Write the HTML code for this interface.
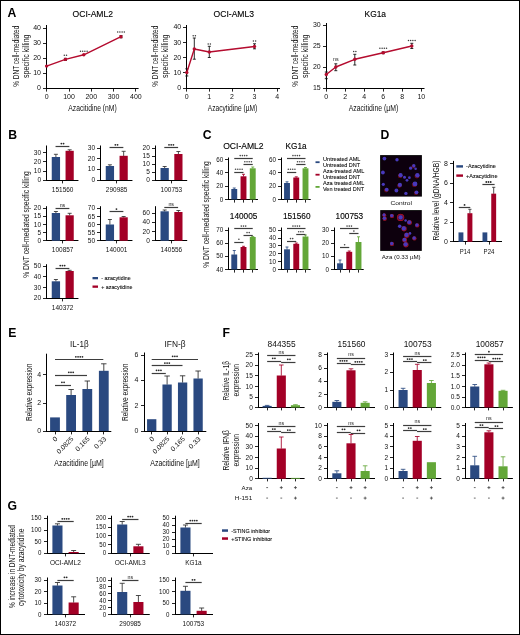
<!DOCTYPE html>
<html><head><meta charset="utf-8"><title>Figure</title>
<style>
html,body{margin:0;padding:0;background:#fff;}
body{width:520px;height:635px;overflow:hidden;position:relative;font-family:"Liberation Sans",sans-serif;}
#frame{position:absolute;left:0;top:0;width:518px;height:633px;border:1px solid #000;pointer-events:none;}
svg{position:absolute;left:0;top:0;display:block;}
svg text{font-family:"Liberation Sans",sans-serif;}
</style></head>
<body>
<svg width="520" height="635" viewBox="0 0 520 635">
<defs><filter id="blur" x="-5%" y="-5%" width="110%" height="110%"><feGaussianBlur stdDeviation="0.45"/></filter>
<filter id="soft" x="0" y="0" width="100%" height="100%" filterUnits="userSpaceOnUse"><feGaussianBlur stdDeviation="0.35"/></filter></defs>
<g filter="url(#soft)">
<rect x="0" y="0" width="520" height="635" fill="#fff"/>
<text  x="7.60" y="17.40" font-size="12.0" text-anchor="start" font-weight="bold" fill="#000" textLength="8.84" lengthAdjust="spacingAndGlyphs">A</text>
<text  x="8.20" y="139.10" font-size="12.0" text-anchor="start" font-weight="bold" fill="#000" textLength="8.84" lengthAdjust="spacingAndGlyphs">B</text>
<text  x="202.80" y="139.00" font-size="12.0" text-anchor="start" font-weight="bold" fill="#000" textLength="8.84" lengthAdjust="spacingAndGlyphs">C</text>
<text  x="380.60" y="139.10" font-size="12.0" text-anchor="start" font-weight="bold" fill="#000" textLength="8.84" lengthAdjust="spacingAndGlyphs">D</text>
<text  x="8.20" y="336.90" font-size="12.0" text-anchor="start" font-weight="bold" fill="#000" textLength="8.16" lengthAdjust="spacingAndGlyphs">E</text>
<text  x="222.60" y="336.90" font-size="12.0" text-anchor="start" font-weight="bold" fill="#000" textLength="7.48" lengthAdjust="spacingAndGlyphs">F</text>
<text  x="7.40" y="509.50" font-size="12.0" text-anchor="start" font-weight="bold" fill="#000" textLength="9.52" lengthAdjust="spacingAndGlyphs">G</text>
<text transform="translate(15.40,56.20) rotate(-90)" x="0.00" y="3.11" font-size="8.7" text-anchor="middle" fill="#111" textLength="61.00" lengthAdjust="spacingAndGlyphs">% DNT cell-mediated</text>
<text transform="translate(25.80,56.20) rotate(-90)" x="0.00" y="3.11" font-size="8.7" text-anchor="middle" fill="#111" textLength="43.50" lengthAdjust="spacingAndGlyphs">specific killing</text>
<text  x="92.80" y="17.31" font-size="8.7" text-anchor="middle" stroke="#000" stroke-width="0.12" fill="#000" textLength="40.50" lengthAdjust="spacingAndGlyphs">OCI-AML2</text>
<line x1="46.50" y1="25.00" x2="46.50" y2="89.00" stroke="#000" stroke-width="1.0" stroke-linecap="butt"/>
<line x1="43.00" y1="28.50" x2="46.50" y2="28.50" stroke="#000" stroke-width="0.85" stroke-linecap="butt"/>
<text  x="41.00" y="30.16" font-size="7.0" text-anchor="end" fill="#111" textLength="7.79" lengthAdjust="spacingAndGlyphs">40</text>
<line x1="43.00" y1="43.50" x2="46.50" y2="43.50" stroke="#000" stroke-width="0.85" stroke-linecap="butt"/>
<text  x="41.00" y="45.16" font-size="7.0" text-anchor="end" fill="#111" textLength="7.79" lengthAdjust="spacingAndGlyphs">30</text>
<line x1="43.00" y1="58.50" x2="46.50" y2="58.50" stroke="#000" stroke-width="0.85" stroke-linecap="butt"/>
<text  x="41.00" y="60.16" font-size="7.0" text-anchor="end" fill="#111" textLength="7.79" lengthAdjust="spacingAndGlyphs">20</text>
<line x1="43.00" y1="73.50" x2="46.50" y2="73.50" stroke="#000" stroke-width="0.85" stroke-linecap="butt"/>
<text  x="41.00" y="75.36" font-size="7.0" text-anchor="end" fill="#111" textLength="7.79" lengthAdjust="spacingAndGlyphs">10</text>
<line x1="43.00" y1="88.50" x2="46.50" y2="88.50" stroke="#000" stroke-width="0.85" stroke-linecap="butt"/>
<text  x="41.00" y="90.41" font-size="7.0" text-anchor="end" fill="#111" textLength="3.89" lengthAdjust="spacingAndGlyphs">0</text>
<line x1="46.00" y1="88.50" x2="138.60" y2="88.50" stroke="#000" stroke-width="1.0" stroke-linecap="butt"/>
<line x1="46.50" y1="88.50" x2="46.50" y2="91.60" stroke="#000" stroke-width="0.85" stroke-linecap="butt"/>
<text  x="46.60" y="99.11" font-size="7.0" text-anchor="middle" fill="#111" textLength="3.89" lengthAdjust="spacingAndGlyphs">0</text>
<line x1="69.50" y1="88.50" x2="69.50" y2="91.60" stroke="#000" stroke-width="0.85" stroke-linecap="butt"/>
<text  x="69.00" y="99.11" font-size="7.0" text-anchor="middle" fill="#111" textLength="11.68" lengthAdjust="spacingAndGlyphs">100</text>
<line x1="91.50" y1="88.50" x2="91.50" y2="91.60" stroke="#000" stroke-width="0.85" stroke-linecap="butt"/>
<text  x="91.30" y="99.11" font-size="7.0" text-anchor="middle" fill="#111" textLength="11.68" lengthAdjust="spacingAndGlyphs">200</text>
<line x1="113.50" y1="88.50" x2="113.50" y2="91.60" stroke="#000" stroke-width="0.85" stroke-linecap="butt"/>
<text  x="113.50" y="99.11" font-size="7.0" text-anchor="middle" fill="#111" textLength="11.68" lengthAdjust="spacingAndGlyphs">300</text>
<line x1="135.50" y1="88.50" x2="135.50" y2="91.60" stroke="#000" stroke-width="0.85" stroke-linecap="butt"/>
<text  x="135.90" y="99.11" font-size="7.0" text-anchor="middle" fill="#111" textLength="11.68" lengthAdjust="spacingAndGlyphs">400</text>
<text  x="92.50" y="110.71" font-size="8.7" text-anchor="middle" fill="#111" textLength="48.50" lengthAdjust="spacingAndGlyphs">Azacitidine (nM)</text>
<line x1="65.40" y1="58.30" x2="65.40" y2="60.50" stroke="#151515" stroke-width="0.9" stroke-linecap="butt"/>
<line x1="63.90" y1="58.30" x2="66.90" y2="58.30" stroke="#151515" stroke-width="0.9" stroke-linecap="butt"/>
<line x1="63.90" y1="60.50" x2="66.90" y2="60.50" stroke="#151515" stroke-width="0.9" stroke-linecap="butt"/>
<line x1="121.00" y1="35.60" x2="121.00" y2="37.80" stroke="#151515" stroke-width="0.9" stroke-linecap="butt"/>
<line x1="119.50" y1="35.60" x2="122.50" y2="35.60" stroke="#151515" stroke-width="0.9" stroke-linecap="butt"/>
<line x1="119.50" y1="37.80" x2="122.50" y2="37.80" stroke="#151515" stroke-width="0.9" stroke-linecap="butt"/>
<path d="M46.60,66.10 L65.40,59.40 L83.80,54.80 L121.00,36.70" fill="none" stroke="#b40a2e" stroke-width="1.4" stroke-linejoin="round"/>
<circle cx="46.60" cy="66.10" r="1.7" fill="#b40a2e"/>
<circle cx="65.40" cy="59.40" r="1.7" fill="#b40a2e"/>
<circle cx="83.80" cy="54.80" r="1.7" fill="#b40a2e"/>
<circle cx="121.00" cy="36.70" r="1.7" fill="#b40a2e"/>
<circle cx="64.30" cy="55.20" r="0.75" fill="#3a3a3a"/>
<circle cx="66.50" cy="55.20" r="0.75" fill="#3a3a3a"/>
<circle cx="80.50" cy="51.20" r="0.75" fill="#3a3a3a"/>
<circle cx="82.70" cy="51.20" r="0.75" fill="#3a3a3a"/>
<circle cx="84.90" cy="51.20" r="0.75" fill="#3a3a3a"/>
<circle cx="87.10" cy="51.20" r="0.75" fill="#3a3a3a"/>
<circle cx="117.70" cy="32.00" r="0.75" fill="#3a3a3a"/>
<circle cx="119.90" cy="32.00" r="0.75" fill="#3a3a3a"/>
<circle cx="122.10" cy="32.00" r="0.75" fill="#3a3a3a"/>
<circle cx="124.30" cy="32.00" r="0.75" fill="#3a3a3a"/>
<text transform="translate(154.60,56.20) rotate(-90)" x="0.00" y="3.11" font-size="8.7" text-anchor="middle" fill="#111" textLength="61.00" lengthAdjust="spacingAndGlyphs">% DNT cell-mediated</text>
<text transform="translate(165.00,56.20) rotate(-90)" x="0.00" y="3.11" font-size="8.7" text-anchor="middle" fill="#111" textLength="43.50" lengthAdjust="spacingAndGlyphs">specific killing</text>
<text  x="233.80" y="17.31" font-size="8.7" text-anchor="middle" stroke="#000" stroke-width="0.12" fill="#000" textLength="40.50" lengthAdjust="spacingAndGlyphs">OCI-AML3</text>
<line x1="186.50" y1="25.00" x2="186.50" y2="89.00" stroke="#000" stroke-width="1.0" stroke-linecap="butt"/>
<line x1="183.00" y1="27.50" x2="186.50" y2="27.50" stroke="#000" stroke-width="0.85" stroke-linecap="butt"/>
<text  x="181.20" y="29.36" font-size="7.0" text-anchor="end" fill="#111" textLength="7.79" lengthAdjust="spacingAndGlyphs">40</text>
<line x1="183.00" y1="42.50" x2="186.50" y2="42.50" stroke="#000" stroke-width="0.85" stroke-linecap="butt"/>
<text  x="181.20" y="44.66" font-size="7.0" text-anchor="end" fill="#111" textLength="7.79" lengthAdjust="spacingAndGlyphs">30</text>
<line x1="183.00" y1="57.50" x2="186.50" y2="57.50" stroke="#000" stroke-width="0.85" stroke-linecap="butt"/>
<text  x="181.20" y="59.76" font-size="7.0" text-anchor="end" fill="#111" textLength="7.79" lengthAdjust="spacingAndGlyphs">20</text>
<line x1="183.00" y1="72.50" x2="186.50" y2="72.50" stroke="#000" stroke-width="0.85" stroke-linecap="butt"/>
<text  x="181.20" y="74.96" font-size="7.0" text-anchor="end" fill="#111" textLength="7.79" lengthAdjust="spacingAndGlyphs">10</text>
<line x1="183.00" y1="88.50" x2="186.50" y2="88.50" stroke="#000" stroke-width="0.85" stroke-linecap="butt"/>
<text  x="181.20" y="90.16" font-size="7.0" text-anchor="end" fill="#111" textLength="3.89" lengthAdjust="spacingAndGlyphs">0</text>
<line x1="186.00" y1="88.50" x2="280.00" y2="88.50" stroke="#000" stroke-width="1.0" stroke-linecap="butt"/>
<line x1="186.50" y1="88.50" x2="186.50" y2="91.60" stroke="#000" stroke-width="0.85" stroke-linecap="butt"/>
<text  x="186.80" y="99.11" font-size="7.0" text-anchor="middle" fill="#111" textLength="3.89" lengthAdjust="spacingAndGlyphs">0</text>
<line x1="209.50" y1="88.50" x2="209.50" y2="91.60" stroke="#000" stroke-width="0.85" stroke-linecap="butt"/>
<text  x="209.30" y="99.11" font-size="7.0" text-anchor="middle" fill="#111" textLength="3.89" lengthAdjust="spacingAndGlyphs">1</text>
<line x1="232.50" y1="88.50" x2="232.50" y2="91.60" stroke="#000" stroke-width="0.85" stroke-linecap="butt"/>
<text  x="232.00" y="99.11" font-size="7.0" text-anchor="middle" fill="#111" textLength="3.89" lengthAdjust="spacingAndGlyphs">2</text>
<line x1="254.50" y1="88.50" x2="254.50" y2="91.60" stroke="#000" stroke-width="0.85" stroke-linecap="butt"/>
<text  x="254.50" y="99.11" font-size="7.0" text-anchor="middle" fill="#111" textLength="3.89" lengthAdjust="spacingAndGlyphs">3</text>
<line x1="277.50" y1="88.50" x2="277.50" y2="91.60" stroke="#000" stroke-width="0.85" stroke-linecap="butt"/>
<text  x="277.20" y="99.11" font-size="7.0" text-anchor="middle" fill="#111" textLength="3.89" lengthAdjust="spacingAndGlyphs">4</text>
<text  x="232.50" y="110.71" font-size="8.7" text-anchor="middle" fill="#111" textLength="49.50" lengthAdjust="spacingAndGlyphs">Azacytidine (µM)</text>
<line x1="186.80" y1="68.80" x2="186.80" y2="76.00" stroke="#151515" stroke-width="0.9" stroke-linecap="butt"/>
<line x1="185.30" y1="68.80" x2="188.30" y2="68.80" stroke="#151515" stroke-width="0.9" stroke-linecap="butt"/>
<line x1="185.30" y1="76.00" x2="188.30" y2="76.00" stroke="#151515" stroke-width="0.9" stroke-linecap="butt"/>
<line x1="194.30" y1="38.00" x2="194.30" y2="59.20" stroke="#151515" stroke-width="0.9" stroke-linecap="butt"/>
<line x1="192.80" y1="38.00" x2="195.80" y2="38.00" stroke="#151515" stroke-width="0.9" stroke-linecap="butt"/>
<line x1="192.80" y1="59.20" x2="195.80" y2="59.20" stroke="#151515" stroke-width="0.9" stroke-linecap="butt"/>
<line x1="209.30" y1="46.30" x2="209.30" y2="57.50" stroke="#151515" stroke-width="0.9" stroke-linecap="butt"/>
<line x1="207.80" y1="46.30" x2="210.80" y2="46.30" stroke="#151515" stroke-width="0.9" stroke-linecap="butt"/>
<line x1="207.80" y1="57.50" x2="210.80" y2="57.50" stroke="#151515" stroke-width="0.9" stroke-linecap="butt"/>
<line x1="254.50" y1="43.80" x2="254.50" y2="48.80" stroke="#151515" stroke-width="0.9" stroke-linecap="butt"/>
<line x1="253.00" y1="43.80" x2="256.00" y2="43.80" stroke="#151515" stroke-width="0.9" stroke-linecap="butt"/>
<line x1="253.00" y1="48.80" x2="256.00" y2="48.80" stroke="#151515" stroke-width="0.9" stroke-linecap="butt"/>
<path d="M186.80,72.50 L194.30,49.00 L209.30,52.00 L254.50,46.50" fill="none" stroke="#b40a2e" stroke-width="1.4" stroke-linejoin="round"/>
<circle cx="186.80" cy="72.50" r="1.7" fill="#b40a2e"/>
<circle cx="194.30" cy="49.00" r="1.7" fill="#b40a2e"/>
<circle cx="209.30" cy="52.00" r="1.7" fill="#b40a2e"/>
<circle cx="254.50" cy="46.50" r="1.7" fill="#b40a2e"/>
<circle cx="193.20" cy="35.80" r="0.75" fill="#3a3a3a"/>
<circle cx="195.40" cy="35.80" r="0.75" fill="#3a3a3a"/>
<circle cx="208.20" cy="43.90" r="0.75" fill="#3a3a3a"/>
<circle cx="210.40" cy="43.90" r="0.75" fill="#3a3a3a"/>
<circle cx="253.40" cy="40.90" r="0.75" fill="#3a3a3a"/>
<circle cx="255.60" cy="40.90" r="0.75" fill="#3a3a3a"/>
<text transform="translate(295.00,56.20) rotate(-90)" x="0.00" y="3.11" font-size="8.7" text-anchor="middle" fill="#111" textLength="61.00" lengthAdjust="spacingAndGlyphs">% DNT cell-mediated</text>
<text transform="translate(304.70,56.20) rotate(-90)" x="0.00" y="3.11" font-size="8.7" text-anchor="middle" fill="#111" textLength="43.50" lengthAdjust="spacingAndGlyphs">specific killing</text>
<text  x="375.30" y="17.31" font-size="8.7" text-anchor="middle" stroke="#000" stroke-width="0.12" fill="#000" textLength="21.50" lengthAdjust="spacingAndGlyphs">KG1a</text>
<line x1="326.50" y1="23.00" x2="326.50" y2="89.00" stroke="#000" stroke-width="1.0" stroke-linecap="butt"/>
<line x1="323.00" y1="25.50" x2="326.50" y2="25.50" stroke="#000" stroke-width="0.85" stroke-linecap="butt"/>
<text  x="320.70" y="27.16" font-size="7.0" text-anchor="end" fill="#111" textLength="7.79" lengthAdjust="spacingAndGlyphs">30</text>
<line x1="323.00" y1="46.50" x2="326.50" y2="46.50" stroke="#000" stroke-width="0.85" stroke-linecap="butt"/>
<text  x="320.70" y="48.16" font-size="7.0" text-anchor="end" fill="#111" textLength="7.79" lengthAdjust="spacingAndGlyphs">25</text>
<line x1="323.00" y1="67.50" x2="326.50" y2="67.50" stroke="#000" stroke-width="0.85" stroke-linecap="butt"/>
<text  x="320.70" y="69.16" font-size="7.0" text-anchor="end" fill="#111" textLength="7.79" lengthAdjust="spacingAndGlyphs">20</text>
<line x1="323.00" y1="88.50" x2="326.50" y2="88.50" stroke="#000" stroke-width="0.85" stroke-linecap="butt"/>
<text  x="320.70" y="90.41" font-size="7.0" text-anchor="end" fill="#111" textLength="7.79" lengthAdjust="spacingAndGlyphs">15</text>
<line x1="326.00" y1="88.50" x2="424.50" y2="88.50" stroke="#000" stroke-width="1.0" stroke-linecap="butt"/>
<line x1="326.50" y1="88.50" x2="326.50" y2="91.60" stroke="#000" stroke-width="0.85" stroke-linecap="butt"/>
<text  x="326.30" y="99.11" font-size="7.0" text-anchor="middle" fill="#111" textLength="3.89" lengthAdjust="spacingAndGlyphs">0</text>
<line x1="345.50" y1="88.50" x2="345.50" y2="91.60" stroke="#000" stroke-width="0.85" stroke-linecap="butt"/>
<text  x="345.10" y="99.11" font-size="7.0" text-anchor="middle" fill="#111" textLength="3.89" lengthAdjust="spacingAndGlyphs">2</text>
<line x1="364.50" y1="88.50" x2="364.50" y2="91.60" stroke="#000" stroke-width="0.85" stroke-linecap="butt"/>
<text  x="364.10" y="99.11" font-size="7.0" text-anchor="middle" fill="#111" textLength="3.89" lengthAdjust="spacingAndGlyphs">4</text>
<line x1="383.50" y1="88.50" x2="383.50" y2="91.60" stroke="#000" stroke-width="0.85" stroke-linecap="butt"/>
<text  x="383.20" y="99.11" font-size="7.0" text-anchor="middle" fill="#111" textLength="3.89" lengthAdjust="spacingAndGlyphs">6</text>
<line x1="402.50" y1="88.50" x2="402.50" y2="91.60" stroke="#000" stroke-width="0.85" stroke-linecap="butt"/>
<text  x="402.20" y="99.11" font-size="7.0" text-anchor="middle" fill="#111" textLength="3.89" lengthAdjust="spacingAndGlyphs">8</text>
<line x1="421.50" y1="88.50" x2="421.50" y2="91.60" stroke="#000" stroke-width="0.85" stroke-linecap="butt"/>
<text  x="421.30" y="99.11" font-size="7.0" text-anchor="middle" fill="#111" textLength="7.79" lengthAdjust="spacingAndGlyphs">10</text>
<text  x="373.50" y="110.71" font-size="8.7" text-anchor="middle" fill="#111" textLength="49.50" lengthAdjust="spacingAndGlyphs">Azacitidine (µM)</text>
<line x1="326.30" y1="72.00" x2="326.30" y2="78.70" stroke="#151515" stroke-width="0.9" stroke-linecap="butt"/>
<line x1="324.80" y1="72.00" x2="327.80" y2="72.00" stroke="#151515" stroke-width="0.9" stroke-linecap="butt"/>
<line x1="324.80" y1="78.70" x2="327.80" y2="78.70" stroke="#151515" stroke-width="0.9" stroke-linecap="butt"/>
<line x1="335.80" y1="63.80" x2="335.80" y2="70.70" stroke="#151515" stroke-width="0.9" stroke-linecap="butt"/>
<line x1="334.30" y1="63.80" x2="337.30" y2="63.80" stroke="#151515" stroke-width="0.9" stroke-linecap="butt"/>
<line x1="334.30" y1="70.70" x2="337.30" y2="70.70" stroke="#151515" stroke-width="0.9" stroke-linecap="butt"/>
<line x1="354.80" y1="54.30" x2="354.80" y2="65.00" stroke="#151515" stroke-width="0.9" stroke-linecap="butt"/>
<line x1="353.30" y1="54.30" x2="356.30" y2="54.30" stroke="#151515" stroke-width="0.9" stroke-linecap="butt"/>
<line x1="353.30" y1="65.00" x2="356.30" y2="65.00" stroke="#151515" stroke-width="0.9" stroke-linecap="butt"/>
<line x1="383.20" y1="51.90" x2="383.20" y2="53.70" stroke="#151515" stroke-width="0.9" stroke-linecap="butt"/>
<line x1="381.70" y1="51.90" x2="384.70" y2="51.90" stroke="#151515" stroke-width="0.9" stroke-linecap="butt"/>
<line x1="381.70" y1="53.70" x2="384.70" y2="53.70" stroke="#151515" stroke-width="0.9" stroke-linecap="butt"/>
<line x1="411.80" y1="43.30" x2="411.80" y2="48.50" stroke="#151515" stroke-width="0.9" stroke-linecap="butt"/>
<line x1="410.30" y1="43.30" x2="413.30" y2="43.30" stroke="#151515" stroke-width="0.9" stroke-linecap="butt"/>
<line x1="410.30" y1="48.50" x2="413.30" y2="48.50" stroke="#151515" stroke-width="0.9" stroke-linecap="butt"/>
<path d="M326.30,74.50 L335.80,67.00 L354.80,59.30 L383.20,52.80 L411.80,46.00" fill="none" stroke="#b40a2e" stroke-width="1.4" stroke-linejoin="round"/>
<circle cx="326.30" cy="74.50" r="1.7" fill="#b40a2e"/>
<circle cx="335.80" cy="67.00" r="1.7" fill="#b40a2e"/>
<circle cx="354.80" cy="59.30" r="1.7" fill="#b40a2e"/>
<circle cx="383.20" cy="52.80" r="1.7" fill="#b40a2e"/>
<circle cx="411.80" cy="46.00" r="1.7" fill="#b40a2e"/>
<text  x="335.80" y="61.00" font-size="5.3" text-anchor="middle" fill="#222" textLength="5.60" lengthAdjust="spacingAndGlyphs">ns</text>
<circle cx="353.70" cy="51.40" r="0.75" fill="#3a3a3a"/>
<circle cx="355.90" cy="51.40" r="0.75" fill="#3a3a3a"/>
<circle cx="379.90" cy="48.20" r="0.75" fill="#3a3a3a"/>
<circle cx="382.10" cy="48.20" r="0.75" fill="#3a3a3a"/>
<circle cx="384.30" cy="48.20" r="0.75" fill="#3a3a3a"/>
<circle cx="386.50" cy="48.20" r="0.75" fill="#3a3a3a"/>
<circle cx="408.50" cy="40.50" r="0.75" fill="#3a3a3a"/>
<circle cx="410.70" cy="40.50" r="0.75" fill="#3a3a3a"/>
<circle cx="412.90" cy="40.50" r="0.75" fill="#3a3a3a"/>
<circle cx="415.10" cy="40.50" r="0.75" fill="#3a3a3a"/>
<text transform="translate(25.60,224.50) rotate(-90)" x="0.00" y="3.11" font-size="8.7" text-anchor="middle" fill="#111" textLength="106.50" lengthAdjust="spacingAndGlyphs">% DNT cell-mediated specific killing</text>
<line x1="46.50" y1="145.50" x2="46.50" y2="181.00" stroke="#000" stroke-width="1.0" stroke-linecap="butt"/>
<line x1="43.00" y1="152.50" x2="46.50" y2="152.50" stroke="#000" stroke-width="0.85" stroke-linecap="butt"/>
<text  x="41.15" y="154.96" font-size="7.0" text-anchor="end" fill="#111" textLength="7.32" lengthAdjust="spacingAndGlyphs">30</text>
<line x1="43.00" y1="161.50" x2="46.50" y2="161.50" stroke="#000" stroke-width="0.85" stroke-linecap="butt"/>
<text  x="41.15" y="163.96" font-size="7.0" text-anchor="end" fill="#111" textLength="7.32" lengthAdjust="spacingAndGlyphs">20</text>
<line x1="43.00" y1="171.50" x2="46.50" y2="171.50" stroke="#000" stroke-width="0.85" stroke-linecap="butt"/>
<text  x="41.15" y="173.16" font-size="7.0" text-anchor="end" fill="#111" textLength="7.32" lengthAdjust="spacingAndGlyphs">10</text>
<line x1="43.00" y1="180.50" x2="46.50" y2="180.50" stroke="#000" stroke-width="0.85" stroke-linecap="butt"/>
<text  x="41.15" y="182.16" font-size="7.0" text-anchor="end" fill="#111" textLength="3.66" lengthAdjust="spacingAndGlyphs">0</text>
<line x1="46.00" y1="180.50" x2="78.45" y2="180.50" stroke="#000" stroke-width="1.0" stroke-linecap="butt"/>
<line x1="62.50" y1="180.50" x2="62.50" y2="183.40" stroke="#000" stroke-width="0.85" stroke-linecap="butt"/>
<line x1="55.90" y1="154.30" x2="55.90" y2="157.20" stroke="#2e2e2e" stroke-width="0.85" stroke-linecap="butt"/>
<line x1="53.90" y1="154.30" x2="57.90" y2="154.30" stroke="#2e2e2e" stroke-width="0.85" stroke-linecap="butt"/>
<rect x="51.75" y="157.00" width="8.30" height="23.00" fill="#2b4a80"/>
<line x1="69.65" y1="149.80" x2="69.65" y2="151.00" stroke="#2e2e2e" stroke-width="0.85" stroke-linecap="butt"/>
<line x1="67.65" y1="149.80" x2="71.65" y2="149.80" stroke="#2e2e2e" stroke-width="0.85" stroke-linecap="butt"/>
<rect x="65.55" y="150.80" width="8.20" height="29.20" fill="#a30028"/>
<line x1="55.55" y1="146.50" x2="69.35" y2="146.50" stroke="#3c3c3c" stroke-width="1.2" stroke-linecap="butt"/>
<circle cx="61.35" cy="143.60" r="0.9" fill="#2a2a2a"/>
<circle cx="63.55" cy="143.60" r="0.9" fill="#2a2a2a"/>
<text  x="62.65" y="191.73" font-size="6.5" text-anchor="middle" fill="#111" textLength="21.60" lengthAdjust="spacingAndGlyphs">151560</text>
<line x1="100.50" y1="145.50" x2="100.50" y2="181.00" stroke="#000" stroke-width="1.0" stroke-linecap="butt"/>
<line x1="97.00" y1="148.50" x2="100.50" y2="148.50" stroke="#000" stroke-width="0.85" stroke-linecap="butt"/>
<text  x="95.15" y="150.16" font-size="7.0" text-anchor="end" fill="#111" textLength="7.32" lengthAdjust="spacingAndGlyphs">30</text>
<line x1="97.00" y1="158.50" x2="100.50" y2="158.50" stroke="#000" stroke-width="0.85" stroke-linecap="butt"/>
<text  x="95.15" y="160.86" font-size="7.0" text-anchor="end" fill="#111" textLength="7.32" lengthAdjust="spacingAndGlyphs">20</text>
<line x1="97.00" y1="169.50" x2="100.50" y2="169.50" stroke="#000" stroke-width="0.85" stroke-linecap="butt"/>
<text  x="95.15" y="171.46" font-size="7.0" text-anchor="end" fill="#111" textLength="7.32" lengthAdjust="spacingAndGlyphs">10</text>
<line x1="97.00" y1="180.50" x2="100.50" y2="180.50" stroke="#000" stroke-width="0.85" stroke-linecap="butt"/>
<text  x="95.15" y="182.16" font-size="7.0" text-anchor="end" fill="#111" textLength="3.66" lengthAdjust="spacingAndGlyphs">0</text>
<line x1="100.00" y1="180.50" x2="132.45" y2="180.50" stroke="#000" stroke-width="1.0" stroke-linecap="butt"/>
<line x1="116.50" y1="180.50" x2="116.50" y2="183.40" stroke="#000" stroke-width="0.85" stroke-linecap="butt"/>
<line x1="109.90" y1="164.80" x2="109.90" y2="166.20" stroke="#2e2e2e" stroke-width="0.85" stroke-linecap="butt"/>
<line x1="107.90" y1="164.80" x2="111.90" y2="164.80" stroke="#2e2e2e" stroke-width="0.85" stroke-linecap="butt"/>
<rect x="105.75" y="166.00" width="8.30" height="14.00" fill="#2b4a80"/>
<line x1="123.65" y1="151.30" x2="123.65" y2="156.00" stroke="#2e2e2e" stroke-width="0.85" stroke-linecap="butt"/>
<line x1="121.65" y1="151.30" x2="125.65" y2="151.30" stroke="#2e2e2e" stroke-width="0.85" stroke-linecap="butt"/>
<rect x="119.55" y="155.80" width="8.20" height="24.20" fill="#a30028"/>
<line x1="109.55" y1="147.50" x2="123.35" y2="147.50" stroke="#3c3c3c" stroke-width="1.2" stroke-linecap="butt"/>
<circle cx="115.35" cy="144.80" r="0.9" fill="#2a2a2a"/>
<circle cx="117.55" cy="144.80" r="0.9" fill="#2a2a2a"/>
<text  x="116.65" y="191.73" font-size="6.5" text-anchor="middle" fill="#111" textLength="21.60" lengthAdjust="spacingAndGlyphs">290985</text>
<line x1="155.50" y1="145.50" x2="155.50" y2="181.00" stroke="#000" stroke-width="1.0" stroke-linecap="butt"/>
<line x1="152.00" y1="148.50" x2="155.50" y2="148.50" stroke="#000" stroke-width="0.85" stroke-linecap="butt"/>
<text  x="149.90" y="150.16" font-size="7.0" text-anchor="end" fill="#111" textLength="7.32" lengthAdjust="spacingAndGlyphs">20</text>
<line x1="152.00" y1="156.50" x2="155.50" y2="156.50" stroke="#000" stroke-width="0.85" stroke-linecap="butt"/>
<text  x="149.90" y="158.16" font-size="7.0" text-anchor="end" fill="#111" textLength="7.32" lengthAdjust="spacingAndGlyphs">15</text>
<line x1="152.00" y1="164.50" x2="155.50" y2="164.50" stroke="#000" stroke-width="0.85" stroke-linecap="butt"/>
<text  x="149.90" y="166.16" font-size="7.0" text-anchor="end" fill="#111" textLength="7.32" lengthAdjust="spacingAndGlyphs">10</text>
<line x1="152.00" y1="172.50" x2="155.50" y2="172.50" stroke="#000" stroke-width="0.85" stroke-linecap="butt"/>
<text  x="149.90" y="174.16" font-size="7.0" text-anchor="end" fill="#111" textLength="3.66" lengthAdjust="spacingAndGlyphs">5</text>
<line x1="152.00" y1="180.50" x2="155.50" y2="180.50" stroke="#000" stroke-width="0.85" stroke-linecap="butt"/>
<text  x="149.90" y="182.16" font-size="7.0" text-anchor="end" fill="#111" textLength="3.66" lengthAdjust="spacingAndGlyphs">0</text>
<line x1="155.00" y1="180.50" x2="187.20" y2="180.50" stroke="#000" stroke-width="1.0" stroke-linecap="butt"/>
<line x1="171.50" y1="180.50" x2="171.50" y2="183.40" stroke="#000" stroke-width="0.85" stroke-linecap="butt"/>
<line x1="164.65" y1="166.50" x2="164.65" y2="168.20" stroke="#2e2e2e" stroke-width="0.85" stroke-linecap="butt"/>
<line x1="162.65" y1="166.50" x2="166.65" y2="166.50" stroke="#2e2e2e" stroke-width="0.85" stroke-linecap="butt"/>
<rect x="160.50" y="168.00" width="8.30" height="12.00" fill="#2b4a80"/>
<line x1="178.40" y1="151.50" x2="178.40" y2="154.20" stroke="#2e2e2e" stroke-width="0.85" stroke-linecap="butt"/>
<line x1="176.40" y1="151.50" x2="180.40" y2="151.50" stroke="#2e2e2e" stroke-width="0.85" stroke-linecap="butt"/>
<rect x="174.30" y="154.00" width="8.20" height="26.00" fill="#a30028"/>
<line x1="164.30" y1="147.50" x2="178.10" y2="147.50" stroke="#3c3c3c" stroke-width="1.2" stroke-linecap="butt"/>
<circle cx="169.00" cy="144.80" r="0.9" fill="#2a2a2a"/>
<circle cx="171.20" cy="144.80" r="0.9" fill="#2a2a2a"/>
<circle cx="173.40" cy="144.80" r="0.9" fill="#2a2a2a"/>
<text  x="171.40" y="191.73" font-size="6.5" text-anchor="middle" fill="#111" textLength="21.60" lengthAdjust="spacingAndGlyphs">100753</text>
<line x1="46.50" y1="206.20" x2="46.50" y2="241.00" stroke="#000" stroke-width="1.0" stroke-linecap="butt"/>
<line x1="43.00" y1="208.50" x2="46.50" y2="208.50" stroke="#000" stroke-width="0.85" stroke-linecap="butt"/>
<text  x="41.15" y="210.46" font-size="7.0" text-anchor="end" fill="#111" textLength="7.32" lengthAdjust="spacingAndGlyphs">20</text>
<line x1="43.00" y1="216.50" x2="46.50" y2="216.50" stroke="#000" stroke-width="0.85" stroke-linecap="butt"/>
<text  x="41.15" y="218.46" font-size="7.0" text-anchor="end" fill="#111" textLength="7.32" lengthAdjust="spacingAndGlyphs">15</text>
<line x1="43.00" y1="224.50" x2="46.50" y2="224.50" stroke="#000" stroke-width="0.85" stroke-linecap="butt"/>
<text  x="41.15" y="226.66" font-size="7.0" text-anchor="end" fill="#111" textLength="7.32" lengthAdjust="spacingAndGlyphs">10</text>
<line x1="43.00" y1="232.50" x2="46.50" y2="232.50" stroke="#000" stroke-width="0.85" stroke-linecap="butt"/>
<text  x="41.15" y="234.76" font-size="7.0" text-anchor="end" fill="#111" textLength="3.66" lengthAdjust="spacingAndGlyphs">5</text>
<line x1="43.00" y1="240.50" x2="46.50" y2="240.50" stroke="#000" stroke-width="0.85" stroke-linecap="butt"/>
<text  x="41.15" y="242.91" font-size="7.0" text-anchor="end" fill="#111" textLength="3.66" lengthAdjust="spacingAndGlyphs">0</text>
<line x1="46.00" y1="240.50" x2="78.45" y2="240.50" stroke="#000" stroke-width="1.0" stroke-linecap="butt"/>
<line x1="62.50" y1="240.50" x2="62.50" y2="243.40" stroke="#000" stroke-width="0.85" stroke-linecap="butt"/>
<line x1="55.90" y1="211.50" x2="55.90" y2="213.20" stroke="#2e2e2e" stroke-width="0.85" stroke-linecap="butt"/>
<line x1="53.90" y1="211.50" x2="57.90" y2="211.50" stroke="#2e2e2e" stroke-width="0.85" stroke-linecap="butt"/>
<rect x="51.75" y="213.00" width="8.30" height="27.75" fill="#2b4a80"/>
<line x1="69.65" y1="213.30" x2="69.65" y2="215.50" stroke="#2e2e2e" stroke-width="0.85" stroke-linecap="butt"/>
<line x1="67.65" y1="213.30" x2="71.65" y2="213.30" stroke="#2e2e2e" stroke-width="0.85" stroke-linecap="butt"/>
<rect x="65.55" y="215.30" width="8.20" height="25.45" fill="#a30028"/>
<line x1="55.55" y1="208.50" x2="69.35" y2="208.50" stroke="#3c3c3c" stroke-width="1.2" stroke-linecap="butt"/>
<text  x="62.45" y="206.70" font-size="5.3" text-anchor="middle" fill="#222" textLength="5.60" lengthAdjust="spacingAndGlyphs">ns</text>
<text  x="62.65" y="252.48" font-size="6.5" text-anchor="middle" fill="#111" textLength="21.60" lengthAdjust="spacingAndGlyphs">100857</text>
<line x1="100.50" y1="206.20" x2="100.50" y2="241.00" stroke="#000" stroke-width="1.0" stroke-linecap="butt"/>
<line x1="97.00" y1="208.50" x2="100.50" y2="208.50" stroke="#000" stroke-width="0.85" stroke-linecap="butt"/>
<text  x="95.15" y="210.46" font-size="7.0" text-anchor="end" fill="#111" textLength="7.32" lengthAdjust="spacingAndGlyphs">70</text>
<line x1="97.00" y1="216.50" x2="100.50" y2="216.50" stroke="#000" stroke-width="0.85" stroke-linecap="butt"/>
<text  x="95.15" y="218.56" font-size="7.0" text-anchor="end" fill="#111" textLength="7.32" lengthAdjust="spacingAndGlyphs">65</text>
<line x1="97.00" y1="224.50" x2="100.50" y2="224.50" stroke="#000" stroke-width="0.85" stroke-linecap="butt"/>
<text  x="95.15" y="226.66" font-size="7.0" text-anchor="end" fill="#111" textLength="7.32" lengthAdjust="spacingAndGlyphs">60</text>
<line x1="97.00" y1="232.50" x2="100.50" y2="232.50" stroke="#000" stroke-width="0.85" stroke-linecap="butt"/>
<text  x="95.15" y="234.76" font-size="7.0" text-anchor="end" fill="#111" textLength="7.32" lengthAdjust="spacingAndGlyphs">55</text>
<line x1="97.00" y1="240.50" x2="100.50" y2="240.50" stroke="#000" stroke-width="0.85" stroke-linecap="butt"/>
<text  x="95.15" y="242.91" font-size="7.0" text-anchor="end" fill="#111" textLength="7.32" lengthAdjust="spacingAndGlyphs">50</text>
<line x1="100.00" y1="240.50" x2="132.45" y2="240.50" stroke="#000" stroke-width="1.0" stroke-linecap="butt"/>
<line x1="116.50" y1="240.50" x2="116.50" y2="243.40" stroke="#000" stroke-width="0.85" stroke-linecap="butt"/>
<line x1="109.90" y1="219.50" x2="109.90" y2="224.70" stroke="#2e2e2e" stroke-width="0.85" stroke-linecap="butt"/>
<line x1="107.90" y1="219.50" x2="111.90" y2="219.50" stroke="#2e2e2e" stroke-width="0.85" stroke-linecap="butt"/>
<rect x="105.75" y="224.50" width="8.30" height="16.25" fill="#2b4a80"/>
<line x1="123.65" y1="216.50" x2="123.65" y2="217.50" stroke="#2e2e2e" stroke-width="0.85" stroke-linecap="butt"/>
<line x1="121.65" y1="216.50" x2="125.65" y2="216.50" stroke="#2e2e2e" stroke-width="0.85" stroke-linecap="butt"/>
<rect x="119.55" y="217.30" width="8.20" height="23.45" fill="#a30028"/>
<line x1="109.55" y1="211.50" x2="123.35" y2="211.50" stroke="#3c3c3c" stroke-width="1.2" stroke-linecap="butt"/>
<circle cx="116.45" cy="209.10" r="0.9" fill="#2a2a2a"/>
<text  x="116.65" y="252.48" font-size="6.5" text-anchor="middle" fill="#111" textLength="21.60" lengthAdjust="spacingAndGlyphs">140001</text>
<line x1="155.50" y1="206.20" x2="155.50" y2="241.00" stroke="#000" stroke-width="1.0" stroke-linecap="butt"/>
<line x1="152.00" y1="213.50" x2="155.50" y2="213.50" stroke="#000" stroke-width="0.85" stroke-linecap="butt"/>
<text  x="149.90" y="215.16" font-size="7.0" text-anchor="end" fill="#111" textLength="7.32" lengthAdjust="spacingAndGlyphs">60</text>
<line x1="152.00" y1="222.50" x2="155.50" y2="222.50" stroke="#000" stroke-width="0.85" stroke-linecap="butt"/>
<text  x="149.90" y="224.46" font-size="7.0" text-anchor="end" fill="#111" textLength="7.32" lengthAdjust="spacingAndGlyphs">40</text>
<line x1="152.00" y1="231.50" x2="155.50" y2="231.50" stroke="#000" stroke-width="0.85" stroke-linecap="butt"/>
<text  x="149.90" y="233.66" font-size="7.0" text-anchor="end" fill="#111" textLength="7.32" lengthAdjust="spacingAndGlyphs">20</text>
<line x1="152.00" y1="240.50" x2="155.50" y2="240.50" stroke="#000" stroke-width="0.85" stroke-linecap="butt"/>
<text  x="149.90" y="242.91" font-size="7.0" text-anchor="end" fill="#111" textLength="3.66" lengthAdjust="spacingAndGlyphs">0</text>
<line x1="155.00" y1="240.50" x2="187.20" y2="240.50" stroke="#000" stroke-width="1.0" stroke-linecap="butt"/>
<line x1="171.50" y1="240.50" x2="171.50" y2="243.40" stroke="#000" stroke-width="0.85" stroke-linecap="butt"/>
<line x1="164.65" y1="210.00" x2="164.65" y2="211.50" stroke="#2e2e2e" stroke-width="0.85" stroke-linecap="butt"/>
<line x1="162.65" y1="210.00" x2="166.65" y2="210.00" stroke="#2e2e2e" stroke-width="0.85" stroke-linecap="butt"/>
<rect x="160.50" y="211.30" width="8.30" height="29.45" fill="#2b4a80"/>
<line x1="178.40" y1="210.50" x2="178.40" y2="212.20" stroke="#2e2e2e" stroke-width="0.85" stroke-linecap="butt"/>
<line x1="176.40" y1="210.50" x2="180.40" y2="210.50" stroke="#2e2e2e" stroke-width="0.85" stroke-linecap="butt"/>
<rect x="174.30" y="212.00" width="8.20" height="28.75" fill="#a30028"/>
<line x1="164.30" y1="207.50" x2="178.10" y2="207.50" stroke="#3c3c3c" stroke-width="1.2" stroke-linecap="butt"/>
<text  x="171.20" y="205.90" font-size="5.3" text-anchor="middle" fill="#222" textLength="5.60" lengthAdjust="spacingAndGlyphs">ns</text>
<text  x="171.40" y="252.48" font-size="6.5" text-anchor="middle" fill="#111" textLength="21.60" lengthAdjust="spacingAndGlyphs">140556</text>
<line x1="46.50" y1="264.20" x2="46.50" y2="299.00" stroke="#000" stroke-width="1.0" stroke-linecap="butt"/>
<line x1="43.00" y1="266.50" x2="46.50" y2="266.50" stroke="#000" stroke-width="0.85" stroke-linecap="butt"/>
<text  x="41.15" y="268.46" font-size="7.0" text-anchor="end" fill="#111" textLength="7.32" lengthAdjust="spacingAndGlyphs">50</text>
<line x1="43.00" y1="276.50" x2="46.50" y2="276.50" stroke="#000" stroke-width="0.85" stroke-linecap="butt"/>
<text  x="41.15" y="278.96" font-size="7.0" text-anchor="end" fill="#111" textLength="7.32" lengthAdjust="spacingAndGlyphs">40</text>
<line x1="43.00" y1="287.50" x2="46.50" y2="287.50" stroke="#000" stroke-width="0.85" stroke-linecap="butt"/>
<text  x="41.15" y="289.66" font-size="7.0" text-anchor="end" fill="#111" textLength="7.32" lengthAdjust="spacingAndGlyphs">30</text>
<line x1="43.00" y1="298.50" x2="46.50" y2="298.50" stroke="#000" stroke-width="0.85" stroke-linecap="butt"/>
<text  x="41.15" y="300.16" font-size="7.0" text-anchor="end" fill="#111" textLength="7.32" lengthAdjust="spacingAndGlyphs">20</text>
<line x1="46.00" y1="298.50" x2="78.45" y2="298.50" stroke="#000" stroke-width="1.0" stroke-linecap="butt"/>
<line x1="62.50" y1="298.50" x2="62.50" y2="301.40" stroke="#000" stroke-width="0.85" stroke-linecap="butt"/>
<line x1="55.90" y1="279.50" x2="55.90" y2="281.50" stroke="#2e2e2e" stroke-width="0.85" stroke-linecap="butt"/>
<line x1="53.90" y1="279.50" x2="57.90" y2="279.50" stroke="#2e2e2e" stroke-width="0.85" stroke-linecap="butt"/>
<rect x="51.75" y="281.30" width="8.30" height="16.70" fill="#2b4a80"/>
<line x1="69.65" y1="270.30" x2="69.65" y2="271.20" stroke="#2e2e2e" stroke-width="0.85" stroke-linecap="butt"/>
<line x1="67.65" y1="270.30" x2="71.65" y2="270.30" stroke="#2e2e2e" stroke-width="0.85" stroke-linecap="butt"/>
<rect x="65.55" y="271.00" width="8.20" height="27.00" fill="#a30028"/>
<line x1="55.55" y1="268.50" x2="69.35" y2="268.50" stroke="#3c3c3c" stroke-width="1.2" stroke-linecap="butt"/>
<circle cx="60.25" cy="265.60" r="0.9" fill="#2a2a2a"/>
<circle cx="62.45" cy="265.60" r="0.9" fill="#2a2a2a"/>
<circle cx="64.65" cy="265.60" r="0.9" fill="#2a2a2a"/>
<text  x="62.65" y="309.73" font-size="6.5" text-anchor="middle" fill="#111" textLength="21.60" lengthAdjust="spacingAndGlyphs">140372</text>
<rect x="92.50" y="277.00" width="5.50" height="2.30" fill="#2b4a80"/>
<text  x="101.20" y="280.07" font-size="5.5" text-anchor="start" stroke="#111" stroke-width="0.1" fill="#111" textLength="29.50" lengthAdjust="spacingAndGlyphs">- azacytidine</text>
<rect x="92.50" y="285.50" width="5.50" height="2.30" fill="#a30028"/>
<text  x="101.20" y="288.57" font-size="5.5" text-anchor="start" stroke="#111" stroke-width="0.1" fill="#111" textLength="31.20" lengthAdjust="spacingAndGlyphs">+ azacytidine</text>
<text transform="translate(206.00,214.50) rotate(-90)" x="0.00" y="3.11" font-size="8.7" text-anchor="middle" fill="#111" textLength="106.50" lengthAdjust="spacingAndGlyphs">% DNT cell-mediated specific killing</text>
<text  x="243.40" y="149.38" font-size="8.6" text-anchor="middle" stroke="#000" stroke-width="0.12" fill="#000" textLength="40.50" lengthAdjust="spacingAndGlyphs">OCI-AML2</text>
<line x1="228.50" y1="157.50" x2="228.50" y2="200.00" stroke="#000" stroke-width="1.0" stroke-linecap="butt"/>
<line x1="225.00" y1="159.50" x2="228.50" y2="159.50" stroke="#000" stroke-width="0.85" stroke-linecap="butt"/>
<text  x="223.15" y="161.66" font-size="7.0" text-anchor="end" fill="#111" textLength="7.01" lengthAdjust="spacingAndGlyphs">60</text>
<line x1="225.00" y1="172.50" x2="228.50" y2="172.50" stroke="#000" stroke-width="0.85" stroke-linecap="butt"/>
<text  x="223.15" y="174.96" font-size="7.0" text-anchor="end" fill="#111" textLength="7.01" lengthAdjust="spacingAndGlyphs">40</text>
<line x1="225.00" y1="186.50" x2="228.50" y2="186.50" stroke="#000" stroke-width="0.85" stroke-linecap="butt"/>
<text  x="223.15" y="188.36" font-size="7.0" text-anchor="end" fill="#111" textLength="7.01" lengthAdjust="spacingAndGlyphs">20</text>
<line x1="225.00" y1="199.50" x2="228.50" y2="199.50" stroke="#000" stroke-width="0.85" stroke-linecap="butt"/>
<text  x="223.15" y="201.66" font-size="7.0" text-anchor="end" fill="#111" textLength="3.50" lengthAdjust="spacingAndGlyphs">0</text>
<line x1="228.00" y1="199.50" x2="257.95" y2="199.50" stroke="#000" stroke-width="1.0" stroke-linecap="butt"/>
<line x1="234.50" y1="199.50" x2="234.50" y2="202.60" stroke="#000" stroke-width="0.85" stroke-linecap="butt"/>
<line x1="243.50" y1="199.50" x2="243.50" y2="202.60" stroke="#000" stroke-width="0.85" stroke-linecap="butt"/>
<line x1="252.50" y1="199.50" x2="252.50" y2="202.60" stroke="#000" stroke-width="0.85" stroke-linecap="butt"/>
<line x1="234.25" y1="188.00" x2="234.25" y2="189.20" stroke="#2b4a80" stroke-width="0.85" stroke-linecap="butt"/>
<line x1="232.75" y1="188.00" x2="235.75" y2="188.00" stroke="#2b4a80" stroke-width="0.85" stroke-linecap="butt"/>
<rect x="231.30" y="189.00" width="5.90" height="10.50" fill="#2b4a80"/>
<line x1="243.50" y1="174.30" x2="243.50" y2="176.50" stroke="#a30028" stroke-width="0.85" stroke-linecap="butt"/>
<line x1="242.00" y1="174.30" x2="245.00" y2="174.30" stroke="#a30028" stroke-width="0.85" stroke-linecap="butt"/>
<rect x="240.55" y="176.30" width="5.90" height="23.20" fill="#a30028"/>
<line x1="252.75" y1="167.00" x2="252.75" y2="168.50" stroke="#63a739" stroke-width="0.85" stroke-linecap="butt"/>
<line x1="251.25" y1="167.00" x2="254.25" y2="167.00" stroke="#63a739" stroke-width="0.85" stroke-linecap="butt"/>
<rect x="249.80" y="168.30" width="5.90" height="31.20" fill="#63a739"/>
<line x1="234.25" y1="158.50" x2="252.75" y2="158.50" stroke="#3c3c3c" stroke-width="1.2" stroke-linecap="butt"/>
<circle cx="240.20" cy="155.60" r="0.8" fill="#484848"/>
<circle cx="242.40" cy="155.60" r="0.8" fill="#484848"/>
<circle cx="244.60" cy="155.60" r="0.8" fill="#484848"/>
<circle cx="246.80" cy="155.60" r="0.8" fill="#484848"/>
<line x1="243.50" y1="164.50" x2="252.75" y2="164.50" stroke="#3c3c3c" stroke-width="1.2" stroke-linecap="butt"/>
<circle cx="244.82" cy="161.80" r="0.8" fill="#484848"/>
<circle cx="247.02" cy="161.80" r="0.8" fill="#484848"/>
<circle cx="249.22" cy="161.80" r="0.8" fill="#484848"/>
<circle cx="251.42" cy="161.80" r="0.8" fill="#484848"/>
<line x1="234.25" y1="172.50" x2="243.50" y2="172.50" stroke="#3c3c3c" stroke-width="1.2" stroke-linecap="butt"/>
<circle cx="235.57" cy="169.30" r="0.8" fill="#484848"/>
<circle cx="237.77" cy="169.30" r="0.8" fill="#484848"/>
<circle cx="239.97" cy="169.30" r="0.8" fill="#484848"/>
<circle cx="242.17" cy="169.30" r="0.8" fill="#484848"/>
<text  x="296.10" y="149.38" font-size="8.6" text-anchor="middle" stroke="#000" stroke-width="0.12" fill="#000" textLength="21.00" lengthAdjust="spacingAndGlyphs">KG1a</text>
<line x1="281.50" y1="157.50" x2="281.50" y2="200.00" stroke="#000" stroke-width="1.0" stroke-linecap="butt"/>
<line x1="278.00" y1="159.50" x2="281.50" y2="159.50" stroke="#000" stroke-width="0.85" stroke-linecap="butt"/>
<text  x="275.90" y="161.66" font-size="7.0" text-anchor="end" fill="#111" textLength="7.01" lengthAdjust="spacingAndGlyphs">60</text>
<line x1="278.00" y1="172.50" x2="281.50" y2="172.50" stroke="#000" stroke-width="0.85" stroke-linecap="butt"/>
<text  x="275.90" y="174.96" font-size="7.0" text-anchor="end" fill="#111" textLength="7.01" lengthAdjust="spacingAndGlyphs">40</text>
<line x1="278.00" y1="186.50" x2="281.50" y2="186.50" stroke="#000" stroke-width="0.85" stroke-linecap="butt"/>
<text  x="275.90" y="188.36" font-size="7.0" text-anchor="end" fill="#111" textLength="7.01" lengthAdjust="spacingAndGlyphs">20</text>
<line x1="278.00" y1="199.50" x2="281.50" y2="199.50" stroke="#000" stroke-width="0.85" stroke-linecap="butt"/>
<text  x="275.90" y="201.66" font-size="7.0" text-anchor="end" fill="#111" textLength="3.50" lengthAdjust="spacingAndGlyphs">0</text>
<line x1="281.00" y1="199.50" x2="310.70" y2="199.50" stroke="#000" stroke-width="1.0" stroke-linecap="butt"/>
<line x1="287.50" y1="199.50" x2="287.50" y2="202.60" stroke="#000" stroke-width="0.85" stroke-linecap="butt"/>
<line x1="296.50" y1="199.50" x2="296.50" y2="202.60" stroke="#000" stroke-width="0.85" stroke-linecap="butt"/>
<line x1="305.50" y1="199.50" x2="305.50" y2="202.60" stroke="#000" stroke-width="0.85" stroke-linecap="butt"/>
<line x1="287.00" y1="181.80" x2="287.00" y2="183.20" stroke="#2b4a80" stroke-width="0.85" stroke-linecap="butt"/>
<line x1="285.50" y1="181.80" x2="288.50" y2="181.80" stroke="#2b4a80" stroke-width="0.85" stroke-linecap="butt"/>
<rect x="284.05" y="183.00" width="5.90" height="16.50" fill="#2b4a80"/>
<line x1="296.25" y1="176.80" x2="296.25" y2="177.70" stroke="#a30028" stroke-width="0.85" stroke-linecap="butt"/>
<line x1="294.75" y1="176.80" x2="297.75" y2="176.80" stroke="#a30028" stroke-width="0.85" stroke-linecap="butt"/>
<rect x="293.30" y="177.50" width="5.90" height="22.00" fill="#a30028"/>
<line x1="305.50" y1="167.50" x2="305.50" y2="168.50" stroke="#63a739" stroke-width="0.85" stroke-linecap="butt"/>
<line x1="304.00" y1="167.50" x2="307.00" y2="167.50" stroke="#63a739" stroke-width="0.85" stroke-linecap="butt"/>
<rect x="302.55" y="168.30" width="5.90" height="31.20" fill="#63a739"/>
<line x1="287.00" y1="158.50" x2="305.50" y2="158.50" stroke="#3c3c3c" stroke-width="1.2" stroke-linecap="butt"/>
<circle cx="292.95" cy="155.60" r="0.8" fill="#484848"/>
<circle cx="295.15" cy="155.60" r="0.8" fill="#484848"/>
<circle cx="297.35" cy="155.60" r="0.8" fill="#484848"/>
<circle cx="299.55" cy="155.60" r="0.8" fill="#484848"/>
<line x1="296.25" y1="164.50" x2="305.50" y2="164.50" stroke="#3c3c3c" stroke-width="1.2" stroke-linecap="butt"/>
<circle cx="297.57" cy="161.80" r="0.8" fill="#484848"/>
<circle cx="299.77" cy="161.80" r="0.8" fill="#484848"/>
<circle cx="301.97" cy="161.80" r="0.8" fill="#484848"/>
<circle cx="304.18" cy="161.80" r="0.8" fill="#484848"/>
<line x1="287.00" y1="172.50" x2="296.25" y2="172.50" stroke="#3c3c3c" stroke-width="1.2" stroke-linecap="butt"/>
<circle cx="288.32" cy="169.30" r="0.8" fill="#484848"/>
<circle cx="290.52" cy="169.30" r="0.8" fill="#484848"/>
<circle cx="292.72" cy="169.30" r="0.8" fill="#484848"/>
<circle cx="294.93" cy="169.30" r="0.8" fill="#484848"/>
<text  x="243.60" y="219.28" font-size="8.6" text-anchor="middle" stroke="#000" stroke-width="0.12" fill="#000" textLength="27.60" lengthAdjust="spacingAndGlyphs">140005</text>
<line x1="228.50" y1="227.50" x2="228.50" y2="270.00" stroke="#000" stroke-width="1.0" stroke-linecap="butt"/>
<line x1="225.00" y1="230.50" x2="228.50" y2="230.50" stroke="#000" stroke-width="0.85" stroke-linecap="butt"/>
<text  x="223.15" y="232.16" font-size="7.0" text-anchor="end" fill="#111" textLength="7.01" lengthAdjust="spacingAndGlyphs">70</text>
<line x1="225.00" y1="243.50" x2="228.50" y2="243.50" stroke="#000" stroke-width="0.85" stroke-linecap="butt"/>
<text  x="223.15" y="245.16" font-size="7.0" text-anchor="end" fill="#111" textLength="7.01" lengthAdjust="spacingAndGlyphs">60</text>
<line x1="225.00" y1="256.50" x2="228.50" y2="256.50" stroke="#000" stroke-width="0.85" stroke-linecap="butt"/>
<text  x="223.15" y="258.46" font-size="7.0" text-anchor="end" fill="#111" textLength="7.01" lengthAdjust="spacingAndGlyphs">50</text>
<line x1="225.00" y1="269.50" x2="228.50" y2="269.50" stroke="#000" stroke-width="0.85" stroke-linecap="butt"/>
<text  x="223.15" y="271.66" font-size="7.0" text-anchor="end" fill="#111" textLength="7.01" lengthAdjust="spacingAndGlyphs">40</text>
<line x1="228.00" y1="269.50" x2="257.95" y2="269.50" stroke="#000" stroke-width="1.0" stroke-linecap="butt"/>
<line x1="234.50" y1="269.50" x2="234.50" y2="272.60" stroke="#000" stroke-width="0.85" stroke-linecap="butt"/>
<line x1="243.50" y1="269.50" x2="243.50" y2="272.60" stroke="#000" stroke-width="0.85" stroke-linecap="butt"/>
<line x1="252.50" y1="269.50" x2="252.50" y2="272.60" stroke="#000" stroke-width="0.85" stroke-linecap="butt"/>
<line x1="234.25" y1="250.50" x2="234.25" y2="254.70" stroke="#2b4a80" stroke-width="0.85" stroke-linecap="butt"/>
<line x1="232.75" y1="250.50" x2="235.75" y2="250.50" stroke="#2b4a80" stroke-width="0.85" stroke-linecap="butt"/>
<rect x="231.30" y="254.50" width="5.90" height="15.00" fill="#2b4a80"/>
<line x1="243.50" y1="246.30" x2="243.50" y2="247.20" stroke="#a30028" stroke-width="0.85" stroke-linecap="butt"/>
<line x1="242.00" y1="246.30" x2="245.00" y2="246.30" stroke="#a30028" stroke-width="0.85" stroke-linecap="butt"/>
<rect x="240.55" y="247.00" width="5.90" height="22.50" fill="#a30028"/>
<line x1="252.75" y1="236.50" x2="252.75" y2="237.20" stroke="#63a739" stroke-width="0.85" stroke-linecap="butt"/>
<line x1="251.25" y1="236.50" x2="254.25" y2="236.50" stroke="#63a739" stroke-width="0.85" stroke-linecap="butt"/>
<rect x="249.80" y="237.00" width="5.90" height="32.50" fill="#63a739"/>
<line x1="234.25" y1="228.50" x2="252.75" y2="228.50" stroke="#3c3c3c" stroke-width="1.2" stroke-linecap="butt"/>
<circle cx="241.30" cy="226.10" r="0.8" fill="#484848"/>
<circle cx="243.50" cy="226.10" r="0.8" fill="#484848"/>
<circle cx="245.70" cy="226.10" r="0.8" fill="#484848"/>
<line x1="243.50" y1="235.50" x2="252.75" y2="235.50" stroke="#3c3c3c" stroke-width="1.2" stroke-linecap="butt"/>
<circle cx="247.03" cy="232.60" r="0.8" fill="#484848"/>
<circle cx="249.22" cy="232.60" r="0.8" fill="#484848"/>
<line x1="234.25" y1="242.50" x2="243.50" y2="242.50" stroke="#3c3c3c" stroke-width="1.2" stroke-linecap="butt"/>
<circle cx="238.88" cy="239.30" r="0.8" fill="#484848"/>
<text  x="296.70" y="219.28" font-size="8.6" text-anchor="middle" stroke="#000" stroke-width="0.12" fill="#000" textLength="27.60" lengthAdjust="spacingAndGlyphs">151560</text>
<line x1="281.50" y1="227.50" x2="281.50" y2="270.00" stroke="#000" stroke-width="1.0" stroke-linecap="butt"/>
<line x1="278.00" y1="230.50" x2="281.50" y2="230.50" stroke="#000" stroke-width="0.85" stroke-linecap="butt"/>
<text  x="275.90" y="232.16" font-size="7.0" text-anchor="end" fill="#111" textLength="7.01" lengthAdjust="spacingAndGlyphs">50</text>
<line x1="278.00" y1="238.50" x2="281.50" y2="238.50" stroke="#000" stroke-width="0.85" stroke-linecap="butt"/>
<text  x="275.90" y="240.16" font-size="7.0" text-anchor="end" fill="#111" textLength="7.01" lengthAdjust="spacingAndGlyphs">40</text>
<line x1="278.00" y1="245.50" x2="281.50" y2="245.50" stroke="#000" stroke-width="0.85" stroke-linecap="butt"/>
<text  x="275.90" y="247.96" font-size="7.0" text-anchor="end" fill="#111" textLength="7.01" lengthAdjust="spacingAndGlyphs">30</text>
<line x1="278.00" y1="253.50" x2="281.50" y2="253.50" stroke="#000" stroke-width="0.85" stroke-linecap="butt"/>
<text  x="275.90" y="255.96" font-size="7.0" text-anchor="end" fill="#111" textLength="7.01" lengthAdjust="spacingAndGlyphs">20</text>
<line x1="278.00" y1="261.50" x2="281.50" y2="261.50" stroke="#000" stroke-width="0.85" stroke-linecap="butt"/>
<text  x="275.90" y="263.86" font-size="7.0" text-anchor="end" fill="#111" textLength="7.01" lengthAdjust="spacingAndGlyphs">10</text>
<line x1="278.00" y1="269.50" x2="281.50" y2="269.50" stroke="#000" stroke-width="0.85" stroke-linecap="butt"/>
<text  x="275.90" y="271.66" font-size="7.0" text-anchor="end" fill="#111" textLength="3.50" lengthAdjust="spacingAndGlyphs">0</text>
<line x1="281.00" y1="269.50" x2="310.70" y2="269.50" stroke="#000" stroke-width="1.0" stroke-linecap="butt"/>
<line x1="287.50" y1="269.50" x2="287.50" y2="272.60" stroke="#000" stroke-width="0.85" stroke-linecap="butt"/>
<line x1="296.50" y1="269.50" x2="296.50" y2="272.60" stroke="#000" stroke-width="0.85" stroke-linecap="butt"/>
<line x1="305.50" y1="269.50" x2="305.50" y2="272.60" stroke="#000" stroke-width="0.85" stroke-linecap="butt"/>
<line x1="287.00" y1="247.00" x2="287.00" y2="249.50" stroke="#2b4a80" stroke-width="0.85" stroke-linecap="butt"/>
<line x1="285.50" y1="247.00" x2="288.50" y2="247.00" stroke="#2b4a80" stroke-width="0.85" stroke-linecap="butt"/>
<rect x="284.05" y="249.30" width="5.90" height="20.20" fill="#2b4a80"/>
<line x1="296.25" y1="243.00" x2="296.25" y2="244.00" stroke="#a30028" stroke-width="0.85" stroke-linecap="butt"/>
<line x1="294.75" y1="243.00" x2="297.75" y2="243.00" stroke="#a30028" stroke-width="0.85" stroke-linecap="butt"/>
<rect x="293.30" y="243.80" width="5.90" height="25.70" fill="#a30028"/>
<line x1="305.50" y1="235.00" x2="305.50" y2="236.70" stroke="#63a739" stroke-width="0.85" stroke-linecap="butt"/>
<line x1="304.00" y1="235.00" x2="307.00" y2="235.00" stroke="#63a739" stroke-width="0.85" stroke-linecap="butt"/>
<rect x="302.55" y="236.50" width="5.90" height="33.00" fill="#63a739"/>
<line x1="287.00" y1="228.50" x2="305.50" y2="228.50" stroke="#3c3c3c" stroke-width="1.2" stroke-linecap="butt"/>
<circle cx="292.95" cy="226.10" r="0.8" fill="#484848"/>
<circle cx="295.15" cy="226.10" r="0.8" fill="#484848"/>
<circle cx="297.35" cy="226.10" r="0.8" fill="#484848"/>
<circle cx="299.55" cy="226.10" r="0.8" fill="#484848"/>
<line x1="296.25" y1="234.50" x2="305.50" y2="234.50" stroke="#3c3c3c" stroke-width="1.2" stroke-linecap="butt"/>
<circle cx="298.68" cy="231.80" r="0.8" fill="#484848"/>
<circle cx="300.88" cy="231.80" r="0.8" fill="#484848"/>
<circle cx="303.07" cy="231.80" r="0.8" fill="#484848"/>
<line x1="287.00" y1="241.50" x2="296.25" y2="241.50" stroke="#3c3c3c" stroke-width="1.2" stroke-linecap="butt"/>
<circle cx="290.52" cy="238.60" r="0.8" fill="#484848"/>
<circle cx="292.72" cy="238.60" r="0.8" fill="#484848"/>
<text  x="349.40" y="219.28" font-size="8.6" text-anchor="middle" stroke="#000" stroke-width="0.12" fill="#000" textLength="27.60" lengthAdjust="spacingAndGlyphs">100753</text>
<line x1="334.50" y1="227.50" x2="334.50" y2="270.00" stroke="#000" stroke-width="1.0" stroke-linecap="butt"/>
<line x1="331.00" y1="230.50" x2="334.50" y2="230.50" stroke="#000" stroke-width="0.85" stroke-linecap="butt"/>
<text  x="328.90" y="232.16" font-size="7.0" text-anchor="end" fill="#111" textLength="7.01" lengthAdjust="spacingAndGlyphs">30</text>
<line x1="331.00" y1="243.50" x2="334.50" y2="243.50" stroke="#000" stroke-width="0.85" stroke-linecap="butt"/>
<text  x="328.90" y="245.16" font-size="7.0" text-anchor="end" fill="#111" textLength="7.01" lengthAdjust="spacingAndGlyphs">20</text>
<line x1="331.00" y1="256.50" x2="334.50" y2="256.50" stroke="#000" stroke-width="0.85" stroke-linecap="butt"/>
<text  x="328.90" y="258.46" font-size="7.0" text-anchor="end" fill="#111" textLength="7.01" lengthAdjust="spacingAndGlyphs">10</text>
<line x1="331.00" y1="269.50" x2="334.50" y2="269.50" stroke="#000" stroke-width="0.85" stroke-linecap="butt"/>
<text  x="328.90" y="271.66" font-size="7.0" text-anchor="end" fill="#111" textLength="3.50" lengthAdjust="spacingAndGlyphs">0</text>
<line x1="334.00" y1="269.50" x2="363.70" y2="269.50" stroke="#000" stroke-width="1.0" stroke-linecap="butt"/>
<line x1="340.50" y1="269.50" x2="340.50" y2="272.60" stroke="#000" stroke-width="0.85" stroke-linecap="butt"/>
<line x1="349.50" y1="269.50" x2="349.50" y2="272.60" stroke="#000" stroke-width="0.85" stroke-linecap="butt"/>
<line x1="358.50" y1="269.50" x2="358.50" y2="272.60" stroke="#000" stroke-width="0.85" stroke-linecap="butt"/>
<line x1="340.00" y1="260.00" x2="340.00" y2="263.50" stroke="#2b4a80" stroke-width="0.85" stroke-linecap="butt"/>
<line x1="338.50" y1="260.00" x2="341.50" y2="260.00" stroke="#2b4a80" stroke-width="0.85" stroke-linecap="butt"/>
<rect x="337.05" y="263.30" width="5.90" height="6.20" fill="#2b4a80"/>
<line x1="349.25" y1="251.00" x2="349.25" y2="252.00" stroke="#a30028" stroke-width="0.85" stroke-linecap="butt"/>
<line x1="347.75" y1="251.00" x2="350.75" y2="251.00" stroke="#a30028" stroke-width="0.85" stroke-linecap="butt"/>
<rect x="346.30" y="251.80" width="5.90" height="17.70" fill="#a30028"/>
<line x1="358.50" y1="236.80" x2="358.50" y2="242.20" stroke="#63a739" stroke-width="0.85" stroke-linecap="butt"/>
<line x1="357.00" y1="236.80" x2="360.00" y2="236.80" stroke="#63a739" stroke-width="0.85" stroke-linecap="butt"/>
<rect x="355.55" y="242.00" width="5.90" height="27.50" fill="#63a739"/>
<line x1="340.00" y1="228.50" x2="358.50" y2="228.50" stroke="#3c3c3c" stroke-width="1.2" stroke-linecap="butt"/>
<circle cx="347.05" cy="226.10" r="0.8" fill="#484848"/>
<circle cx="349.25" cy="226.10" r="0.8" fill="#484848"/>
<circle cx="351.45" cy="226.10" r="0.8" fill="#484848"/>
<line x1="349.25" y1="233.50" x2="358.50" y2="233.50" stroke="#3c3c3c" stroke-width="1.2" stroke-linecap="butt"/>
<circle cx="353.88" cy="231.10" r="0.8" fill="#484848"/>
<line x1="340.00" y1="247.50" x2="349.25" y2="247.50" stroke="#3c3c3c" stroke-width="1.2" stroke-linecap="butt"/>
<circle cx="344.62" cy="244.80" r="0.8" fill="#484848"/>
<rect x="315.50" y="161.30" width="4.10" height="1.80" fill="#2b4a80"/>
<rect x="315.50" y="173.80" width="4.10" height="1.80" fill="#a30028"/>
<rect x="315.50" y="186.00" width="4.10" height="1.80" fill="#63a739"/>
<text  x="323.00" y="160.90" font-size="5.3" text-anchor="start" stroke="#111" stroke-width="0.1" fill="#111" textLength="37.50" lengthAdjust="spacingAndGlyphs">Untreated AML</text>
<text  x="323.00" y="167.00" font-size="5.3" text-anchor="start" stroke="#111" stroke-width="0.1" fill="#111" textLength="37.20" lengthAdjust="spacingAndGlyphs">Untreated DNT</text>
<text  x="323.00" y="173.20" font-size="5.3" text-anchor="start" stroke="#111" stroke-width="0.1" fill="#111" textLength="41.30" lengthAdjust="spacingAndGlyphs">Aza-treated AML</text>
<text  x="323.00" y="179.20" font-size="5.3" text-anchor="start" stroke="#111" stroke-width="0.1" fill="#111" textLength="37.20" lengthAdjust="spacingAndGlyphs">Untreated DNT</text>
<text  x="323.00" y="185.20" font-size="5.3" text-anchor="start" stroke="#111" stroke-width="0.1" fill="#111" textLength="41.30" lengthAdjust="spacingAndGlyphs">Aza treated AML</text>
<text  x="323.00" y="191.40" font-size="5.3" text-anchor="start" stroke="#111" stroke-width="0.1" fill="#111" textLength="41.00" lengthAdjust="spacingAndGlyphs">Ven treated DNT</text>
<rect x="380.10" y="155.10" width="41.80" height="41.50" fill="#070207"/>
<g filter="url(#blur)">
<circle cx="384.4" cy="158.6" r="1.9" fill="#4a39bc"/>
<circle cx="397.0" cy="159.8" r="1.7" fill="#4a39bc"/>
<circle cx="413.3" cy="166.4" r="2.0" fill="#5e0a1a"/>
<circle cx="413.8" cy="165.7" r="1.7" fill="#4a39bc"/>
<circle cx="410.6" cy="168.2" r="1.6" fill="#4a39bc"/>
<circle cx="415.6" cy="168.8" r="1.3" fill="#4a39bc"/>
<circle cx="382.9" cy="172.5" r="1.9" fill="#4a39bc"/>
<circle cx="400.1" cy="175.9" r="2.4" fill="#5e0a1a"/>
<circle cx="400.6" cy="175.2" r="2.1" fill="#4a39bc"/>
<circle cx="404.5" cy="177.2" r="1.5" fill="#4a39bc"/>
<circle cx="409.4" cy="177.7" r="1.4" fill="#4a39bc"/>
<circle cx="407.0" cy="180.3" r="1.4" fill="#4a39bc"/>
<circle cx="416.9" cy="175.9" r="2.5" fill="#5e0a1a"/>
<circle cx="417.4" cy="175.2" r="2.2" fill="#4a39bc"/>
<circle cx="383.3" cy="184.3" r="1.6" fill="#4a39bc"/>
<circle cx="399.4" cy="185.6" r="2.4" fill="#5e0a1a"/>
<circle cx="399.9" cy="184.9" r="2.1" fill="#4a39bc"/>
<circle cx="414.5" cy="184.6" r="2.7" fill="#5e0a1a"/>
<circle cx="415.0" cy="183.9" r="2.4" fill="#4a39bc"/>
<circle cx="386.2" cy="190.3" r="2.2" fill="#5e0a1a"/>
<circle cx="386.7" cy="189.6" r="1.9" fill="#4a39bc"/>
<circle cx="396.4" cy="190.5" r="1.9" fill="#4a39bc"/>
<circle cx="405.9" cy="193.4" r="1.7" fill="#4a39bc"/>
<circle cx="416.0" cy="193.0" r="2.2" fill="#5e0a1a"/>
<circle cx="416.5" cy="192.3" r="1.9" fill="#4a39bc"/>
</g>
<rect x="380.20" y="210.10" width="41.60" height="40.80" fill="#070207"/>
<g filter="url(#blur)">
<circle cx="384.3" cy="215.2" r="2.0" fill="#8c0f25"/>
<circle cx="384.0" cy="214.8" r="1.5" fill="#4a39bc"/>
<circle cx="384.7" cy="218.7" r="2.2" fill="#8c0f25"/>
<circle cx="384.4" cy="218.3" r="1.7" fill="#4a39bc"/>
<circle cx="392.0" cy="216.0" r="2.2" fill="#8c0f25"/>
<circle cx="391.7" cy="215.6" r="1.7" fill="#4a39bc"/>
<circle cx="400.6" cy="217.4" r="3.7" fill="#a01126"/>
<circle cx="400.6" cy="217.4" r="2.7" fill="#4a1040"/>
<circle cx="400.6" cy="217.4" r="2.1" fill="#4a39bc"/>
<circle cx="405.6" cy="220.5" r="1.3" fill="#4a39bc"/>
<circle cx="409.5" cy="222.6" r="2.5" fill="#8c0f25"/>
<circle cx="409.2" cy="222.2" r="1.9" fill="#4a39bc"/>
<circle cx="417.2" cy="225.4" r="2.2" fill="#8c0f25"/>
<circle cx="416.9" cy="225.0" r="1.7" fill="#4a39bc"/>
<circle cx="399.7" cy="226.3" r="1.8" fill="#4a39bc"/>
<circle cx="404.1" cy="228.8" r="2.7" fill="#8c0f25"/>
<circle cx="403.8" cy="228.4" r="2.1" fill="#4a39bc"/>
<circle cx="406.8" cy="235.3" r="2.7" fill="#8c0f25"/>
<circle cx="406.5" cy="234.9" r="2.1" fill="#4a39bc"/>
<circle cx="410.0" cy="233.4" r="1.3" fill="#4a39bc"/>
<circle cx="414.4" cy="238.4" r="2.2" fill="#8c0f25"/>
<circle cx="414.1" cy="238.0" r="1.7" fill="#4a39bc"/>
<circle cx="404.7" cy="240.1" r="2.5" fill="#8c0f25"/>
<circle cx="404.4" cy="239.7" r="1.9" fill="#4a39bc"/>
<circle cx="392.0" cy="243.9" r="2.2" fill="#8c0f25"/>
<circle cx="391.7" cy="243.5" r="1.7" fill="#4a39bc"/>
<circle cx="405.9" cy="244.7" r="2.7" fill="#8c0f25"/>
<circle cx="405.6" cy="244.3" r="2.1" fill="#4a39bc"/>
</g>
<text  x="401.20" y="204.62" font-size="6.2" text-anchor="middle" fill="#111" textLength="21.50" lengthAdjust="spacingAndGlyphs">Control</text>
<text  x="401.20" y="258.82" font-size="6.2" text-anchor="middle" fill="#111" textLength="39.00" lengthAdjust="spacingAndGlyphs">Aza (0.33 µM)</text>
<text transform="translate(435.50,200.60) rotate(-90)" x="0.00" y="3.11" font-size="8.7" text-anchor="middle" fill="#111" textLength="80.00" lengthAdjust="spacingAndGlyphs">Relative level (gDNA/HGB)</text>
<line x1="453.50" y1="160.90" x2="453.50" y2="242.00" stroke="#000" stroke-width="1.0" stroke-linecap="butt"/>
<line x1="450.00" y1="163.50" x2="453.50" y2="163.50" stroke="#000" stroke-width="0.85" stroke-linecap="butt"/>
<text  x="447.80" y="165.76" font-size="7.0" text-anchor="end" fill="#111" textLength="3.89" lengthAdjust="spacingAndGlyphs">8</text>
<line x1="450.00" y1="183.50" x2="453.50" y2="183.50" stroke="#000" stroke-width="0.85" stroke-linecap="butt"/>
<text  x="447.80" y="185.36" font-size="7.0" text-anchor="end" fill="#111" textLength="3.89" lengthAdjust="spacingAndGlyphs">6</text>
<line x1="450.00" y1="202.50" x2="453.50" y2="202.50" stroke="#000" stroke-width="0.85" stroke-linecap="butt"/>
<text  x="447.80" y="204.86" font-size="7.0" text-anchor="end" fill="#111" textLength="3.89" lengthAdjust="spacingAndGlyphs">4</text>
<line x1="450.00" y1="222.50" x2="453.50" y2="222.50" stroke="#000" stroke-width="0.85" stroke-linecap="butt"/>
<text  x="447.80" y="224.46" font-size="7.0" text-anchor="end" fill="#111" textLength="3.89" lengthAdjust="spacingAndGlyphs">2</text>
<line x1="450.00" y1="241.50" x2="453.50" y2="241.50" stroke="#000" stroke-width="0.85" stroke-linecap="butt"/>
<text  x="447.80" y="243.96" font-size="7.0" text-anchor="end" fill="#111" textLength="3.89" lengthAdjust="spacingAndGlyphs">0</text>
<line x1="453.00" y1="241.50" x2="502.00" y2="241.50" stroke="#000" stroke-width="1.0" stroke-linecap="butt"/>
<line x1="465.50" y1="241.50" x2="465.50" y2="244.60" stroke="#000" stroke-width="0.85" stroke-linecap="butt"/>
<line x1="489.50" y1="241.50" x2="489.50" y2="244.60" stroke="#000" stroke-width="0.85" stroke-linecap="butt"/>
<rect x="458.50" y="232.40" width="4.90" height="9.40" fill="#2b4a80"/>
<line x1="469.90" y1="209.30" x2="469.90" y2="213.40" stroke="#2e2e2e" stroke-width="0.85" stroke-linecap="butt"/>
<line x1="468.30" y1="209.30" x2="471.50" y2="209.30" stroke="#2e2e2e" stroke-width="0.85" stroke-linecap="butt"/>
<rect x="467.40" y="213.20" width="5.00" height="28.60" fill="#a30028"/>
<rect x="482.50" y="232.40" width="4.80" height="9.40" fill="#2b4a80"/>
<line x1="493.70" y1="187.30" x2="493.70" y2="193.85" stroke="#2e2e2e" stroke-width="0.85" stroke-linecap="butt"/>
<line x1="492.10" y1="187.30" x2="495.30" y2="187.30" stroke="#2e2e2e" stroke-width="0.85" stroke-linecap="butt"/>
<rect x="491.25" y="193.65" width="4.90" height="48.15" fill="#a30028"/>
<line x1="458.80" y1="207.50" x2="470.30" y2="207.50" stroke="#3c3c3c" stroke-width="1.2" stroke-linecap="butt"/>
<circle cx="464.55" cy="204.90" r="0.9" fill="#2a2a2a"/>
<line x1="482.40" y1="184.50" x2="494.60" y2="184.50" stroke="#3c3c3c" stroke-width="1.2" stroke-linecap="butt"/>
<circle cx="486.30" cy="182.00" r="0.9" fill="#2a2a2a"/>
<circle cx="488.50" cy="182.00" r="0.9" fill="#2a2a2a"/>
<circle cx="490.70" cy="182.00" r="0.9" fill="#2a2a2a"/>
<rect x="456.30" y="165.20" width="6.70" height="2.40" fill="#2b4a80"/>
<text  x="466.10" y="168.40" font-size="5.6" text-anchor="start" stroke="#111" stroke-width="0.1" fill="#111" textLength="29.60" lengthAdjust="spacingAndGlyphs">-Azacytidine</text>
<rect x="456.30" y="174.40" width="6.70" height="2.40" fill="#a30028"/>
<text  x="466.10" y="177.50" font-size="5.6" text-anchor="start" stroke="#111" stroke-width="0.1" fill="#111" textLength="31.40" lengthAdjust="spacingAndGlyphs">+Azacytidine</text>
<text  x="465.10" y="254.03" font-size="6.5" text-anchor="middle" fill="#111" textLength="10.60" lengthAdjust="spacingAndGlyphs">P14</text>
<text  x="489.00" y="254.03" font-size="6.5" text-anchor="middle" fill="#111" textLength="10.80" lengthAdjust="spacingAndGlyphs">P24</text>
<text  x="79.30" y="347.14" font-size="8.2" text-anchor="middle" fill="#111" textLength="18.60" lengthAdjust="spacingAndGlyphs">IL-1β</text>
<text transform="translate(28.40,392.30) rotate(-90)" x="0.00" y="3.11" font-size="8.7" text-anchor="middle" fill="#111" textLength="57.50" lengthAdjust="spacingAndGlyphs">Relative expression</text>
<line x1="46.50" y1="353.70" x2="46.50" y2="432.00" stroke="#000" stroke-width="1.0" stroke-linecap="butt"/>
<line x1="43.00" y1="374.50" x2="46.50" y2="374.50" stroke="#000" stroke-width="0.85" stroke-linecap="butt"/>
<text  x="41.15" y="376.96" font-size="7.0" text-anchor="end" fill="#111" textLength="3.89" lengthAdjust="spacingAndGlyphs">4</text>
<line x1="43.00" y1="403.50" x2="46.50" y2="403.50" stroke="#000" stroke-width="0.85" stroke-linecap="butt"/>
<text  x="41.15" y="405.16" font-size="7.0" text-anchor="end" fill="#111" textLength="3.89" lengthAdjust="spacingAndGlyphs">2</text>
<line x1="43.00" y1="431.50" x2="46.50" y2="431.50" stroke="#000" stroke-width="0.85" stroke-linecap="butt"/>
<text  x="41.15" y="433.16" font-size="7.0" text-anchor="end" fill="#111" textLength="3.89" lengthAdjust="spacingAndGlyphs">0</text>
<line x1="46.00" y1="431.50" x2="111.30" y2="431.50" stroke="#000" stroke-width="1.0" stroke-linecap="butt"/>
<line x1="55.50" y1="431.50" x2="55.50" y2="434.40" stroke="#000" stroke-width="0.85" stroke-linecap="butt"/>
<line x1="71.50" y1="431.50" x2="71.50" y2="434.40" stroke="#000" stroke-width="0.85" stroke-linecap="butt"/>
<line x1="87.50" y1="431.50" x2="87.50" y2="434.40" stroke="#000" stroke-width="0.85" stroke-linecap="butt"/>
<line x1="103.50" y1="431.50" x2="103.50" y2="434.40" stroke="#000" stroke-width="0.85" stroke-linecap="butt"/>
<rect x="50.10" y="417.40" width="9.80" height="13.60" fill="#2b4a80"/>
<line x1="71.10" y1="389.50" x2="71.10" y2="395.20" stroke="#262626" stroke-width="0.85" stroke-linecap="butt"/>
<line x1="68.40" y1="389.50" x2="73.80" y2="389.50" stroke="#262626" stroke-width="0.85" stroke-linecap="butt"/>
<rect x="66.20" y="395.00" width="9.80" height="36.00" fill="#2b4a80"/>
<line x1="87.30" y1="381.00" x2="87.30" y2="389.20" stroke="#262626" stroke-width="0.85" stroke-linecap="butt"/>
<line x1="84.60" y1="381.00" x2="90.00" y2="381.00" stroke="#262626" stroke-width="0.85" stroke-linecap="butt"/>
<rect x="82.40" y="389.00" width="9.80" height="42.00" fill="#2b4a80"/>
<line x1="103.80" y1="363.80" x2="103.80" y2="371.00" stroke="#262626" stroke-width="0.85" stroke-linecap="butt"/>
<line x1="101.10" y1="363.80" x2="106.50" y2="363.80" stroke="#262626" stroke-width="0.85" stroke-linecap="butt"/>
<rect x="98.90" y="370.80" width="9.80" height="60.20" fill="#2b4a80"/>
<line x1="55.00" y1="359.50" x2="103.30" y2="359.50" stroke="#3c3c3c" stroke-width="1.2" stroke-linecap="butt"/>
<circle cx="75.85" cy="356.80" r="0.9" fill="#2a2a2a"/>
<circle cx="78.05" cy="356.80" r="0.9" fill="#2a2a2a"/>
<circle cx="80.25" cy="356.80" r="0.9" fill="#2a2a2a"/>
<circle cx="82.45" cy="356.80" r="0.9" fill="#2a2a2a"/>
<line x1="55.00" y1="375.50" x2="87.00" y2="375.50" stroke="#3c3c3c" stroke-width="1.2" stroke-linecap="butt"/>
<circle cx="68.80" cy="372.30" r="0.9" fill="#2a2a2a"/>
<circle cx="71.00" cy="372.30" r="0.9" fill="#2a2a2a"/>
<circle cx="73.20" cy="372.30" r="0.9" fill="#2a2a2a"/>
<line x1="55.00" y1="385.50" x2="71.00" y2="385.50" stroke="#3c3c3c" stroke-width="1.2" stroke-linecap="butt"/>
<circle cx="61.90" cy="382.30" r="0.9" fill="#2a2a2a"/>
<circle cx="64.10" cy="382.30" r="0.9" fill="#2a2a2a"/>
<text transform="translate(56.20,437.60) rotate(-45)" x="0" y="2.45" font-size="6.8" text-anchor="end" fill="#111" textLength="3.8" lengthAdjust="spacingAndGlyphs">0</text>
<text transform="translate(72.30,437.60) rotate(-45)" x="0" y="2.45" font-size="6.8" text-anchor="end" fill="#111" textLength="21" lengthAdjust="spacingAndGlyphs">0.0825</text>
<text transform="translate(88.50,437.60) rotate(-45)" x="0" y="2.45" font-size="6.8" text-anchor="end" fill="#111" textLength="17.4" lengthAdjust="spacingAndGlyphs">0.165</text>
<text transform="translate(105.00,437.60) rotate(-45)" x="0" y="2.45" font-size="6.8" text-anchor="end" fill="#111" textLength="14" lengthAdjust="spacingAndGlyphs">0.33</text>
<text  x="79.00" y="466.11" font-size="8.7" text-anchor="middle" fill="#111" textLength="49.50" lengthAdjust="spacingAndGlyphs">Azacitidine [µM]</text>
<text  x="175.00" y="347.14" font-size="8.2" text-anchor="middle" fill="#111" textLength="21.00" lengthAdjust="spacingAndGlyphs">IFN-β</text>
<text transform="translate(125.20,392.30) rotate(-90)" x="0.00" y="3.11" font-size="8.7" text-anchor="middle" fill="#111" textLength="57.50" lengthAdjust="spacingAndGlyphs">Relative expression</text>
<line x1="144.50" y1="352.50" x2="144.50" y2="432.00" stroke="#000" stroke-width="1.0" stroke-linecap="butt"/>
<line x1="141.00" y1="355.50" x2="144.50" y2="355.50" stroke="#000" stroke-width="0.85" stroke-linecap="butt"/>
<text  x="138.40" y="357.16" font-size="7.0" text-anchor="end" fill="#111" textLength="3.89" lengthAdjust="spacingAndGlyphs">6</text>
<line x1="141.00" y1="380.50" x2="144.50" y2="380.50" stroke="#000" stroke-width="0.85" stroke-linecap="butt"/>
<text  x="138.40" y="382.46" font-size="7.0" text-anchor="end" fill="#111" textLength="3.89" lengthAdjust="spacingAndGlyphs">4</text>
<line x1="141.00" y1="405.50" x2="144.50" y2="405.50" stroke="#000" stroke-width="0.85" stroke-linecap="butt"/>
<text  x="138.40" y="407.86" font-size="7.0" text-anchor="end" fill="#111" textLength="3.89" lengthAdjust="spacingAndGlyphs">2</text>
<line x1="141.00" y1="431.50" x2="144.50" y2="431.50" stroke="#000" stroke-width="0.85" stroke-linecap="butt"/>
<text  x="138.40" y="433.16" font-size="7.0" text-anchor="end" fill="#111" textLength="3.89" lengthAdjust="spacingAndGlyphs">0</text>
<line x1="144.00" y1="431.50" x2="206.30" y2="431.50" stroke="#000" stroke-width="1.0" stroke-linecap="butt"/>
<line x1="151.50" y1="431.50" x2="151.50" y2="434.40" stroke="#000" stroke-width="0.85" stroke-linecap="butt"/>
<line x1="167.50" y1="431.50" x2="167.50" y2="434.40" stroke="#000" stroke-width="0.85" stroke-linecap="butt"/>
<line x1="182.50" y1="431.50" x2="182.50" y2="434.40" stroke="#000" stroke-width="0.85" stroke-linecap="butt"/>
<line x1="198.50" y1="431.50" x2="198.50" y2="434.40" stroke="#000" stroke-width="0.85" stroke-linecap="butt"/>
<rect x="147.05" y="419.20" width="9.30" height="11.80" fill="#2b4a80"/>
<line x1="167.10" y1="376.00" x2="167.10" y2="384.70" stroke="#262626" stroke-width="0.85" stroke-linecap="butt"/>
<line x1="164.40" y1="376.00" x2="169.80" y2="376.00" stroke="#262626" stroke-width="0.85" stroke-linecap="butt"/>
<rect x="162.45" y="384.50" width="9.30" height="46.50" fill="#2b4a80"/>
<line x1="182.60" y1="375.80" x2="182.60" y2="382.70" stroke="#262626" stroke-width="0.85" stroke-linecap="butt"/>
<line x1="179.90" y1="375.80" x2="185.30" y2="375.80" stroke="#262626" stroke-width="0.85" stroke-linecap="butt"/>
<rect x="177.95" y="382.50" width="9.30" height="48.50" fill="#2b4a80"/>
<line x1="198.10" y1="371.00" x2="198.10" y2="378.70" stroke="#262626" stroke-width="0.85" stroke-linecap="butt"/>
<line x1="195.40" y1="371.00" x2="200.80" y2="371.00" stroke="#262626" stroke-width="0.85" stroke-linecap="butt"/>
<rect x="193.45" y="378.50" width="9.30" height="52.50" fill="#2b4a80"/>
<line x1="151.70" y1="359.50" x2="198.00" y2="359.50" stroke="#3c3c3c" stroke-width="1.2" stroke-linecap="butt"/>
<circle cx="172.65" cy="356.30" r="0.9" fill="#2a2a2a"/>
<circle cx="174.85" cy="356.30" r="0.9" fill="#2a2a2a"/>
<circle cx="177.05" cy="356.30" r="0.9" fill="#2a2a2a"/>
<line x1="151.70" y1="365.50" x2="182.50" y2="365.50" stroke="#3c3c3c" stroke-width="1.2" stroke-linecap="butt"/>
<circle cx="164.90" cy="363.10" r="0.9" fill="#2a2a2a"/>
<circle cx="167.10" cy="363.10" r="0.9" fill="#2a2a2a"/>
<circle cx="169.30" cy="363.10" r="0.9" fill="#2a2a2a"/>
<line x1="151.70" y1="373.50" x2="165.80" y2="373.50" stroke="#3c3c3c" stroke-width="1.2" stroke-linecap="butt"/>
<circle cx="156.55" cy="370.30" r="0.9" fill="#2a2a2a"/>
<circle cx="158.75" cy="370.30" r="0.9" fill="#2a2a2a"/>
<circle cx="160.95" cy="370.30" r="0.9" fill="#2a2a2a"/>
<text transform="translate(152.90,437.60) rotate(-45)" x="0" y="2.45" font-size="6.8" text-anchor="end" fill="#111" textLength="3.8" lengthAdjust="spacingAndGlyphs">0</text>
<text transform="translate(168.30,437.60) rotate(-45)" x="0" y="2.45" font-size="6.8" text-anchor="end" fill="#111" textLength="21" lengthAdjust="spacingAndGlyphs">0.0825</text>
<text transform="translate(183.80,437.60) rotate(-45)" x="0" y="2.45" font-size="6.8" text-anchor="end" fill="#111" textLength="17.4" lengthAdjust="spacingAndGlyphs">0.165</text>
<text transform="translate(199.30,437.60) rotate(-45)" x="0" y="2.45" font-size="6.8" text-anchor="end" fill="#111" textLength="14" lengthAdjust="spacingAndGlyphs">0.33</text>
<text  x="175.00" y="466.11" font-size="8.7" text-anchor="middle" fill="#111" textLength="49.50" lengthAdjust="spacingAndGlyphs">Azacitidine [µM]</text>
<text transform="translate(226.30,380.80) rotate(-90)" x="0.00" y="3.11" font-size="8.7" text-anchor="middle" fill="#111" textLength="39.50" lengthAdjust="spacingAndGlyphs">Relative IL-1β</text>
<text transform="translate(236.20,380.30) rotate(-90)" x="0.00" y="3.11" font-size="8.7" text-anchor="middle" fill="#111" textLength="32.50" lengthAdjust="spacingAndGlyphs">expression</text>
<text  x="281.60" y="347.02" font-size="9.0" text-anchor="middle" fill="#111" textLength="28.00" lengthAdjust="spacingAndGlyphs">844355</text>
<line x1="258.50" y1="352.50" x2="258.50" y2="408.00" stroke="#000" stroke-width="1.0" stroke-linecap="butt"/>
<line x1="255.00" y1="354.50" x2="258.50" y2="354.50" stroke="#000" stroke-width="0.85" stroke-linecap="butt"/>
<text  x="252.90" y="356.96" font-size="7.0" text-anchor="end" fill="#111" textLength="7.32" lengthAdjust="spacingAndGlyphs">25</text>
<line x1="255.00" y1="365.50" x2="258.50" y2="365.50" stroke="#000" stroke-width="0.85" stroke-linecap="butt"/>
<text  x="252.90" y="367.46" font-size="7.0" text-anchor="end" fill="#111" textLength="7.32" lengthAdjust="spacingAndGlyphs">20</text>
<line x1="255.00" y1="375.50" x2="258.50" y2="375.50" stroke="#000" stroke-width="0.85" stroke-linecap="butt"/>
<text  x="252.90" y="377.96" font-size="7.0" text-anchor="end" fill="#111" textLength="7.32" lengthAdjust="spacingAndGlyphs">15</text>
<line x1="255.00" y1="386.50" x2="258.50" y2="386.50" stroke="#000" stroke-width="0.85" stroke-linecap="butt"/>
<text  x="252.90" y="388.56" font-size="7.0" text-anchor="end" fill="#111" textLength="7.32" lengthAdjust="spacingAndGlyphs">10</text>
<line x1="255.00" y1="397.50" x2="258.50" y2="397.50" stroke="#000" stroke-width="0.85" stroke-linecap="butt"/>
<text  x="252.90" y="399.16" font-size="7.0" text-anchor="end" fill="#111" textLength="3.66" lengthAdjust="spacingAndGlyphs">5</text>
<line x1="255.00" y1="407.50" x2="258.50" y2="407.50" stroke="#000" stroke-width="0.85" stroke-linecap="butt"/>
<text  x="252.90" y="409.66" font-size="7.0" text-anchor="end" fill="#111" textLength="3.66" lengthAdjust="spacingAndGlyphs">0</text>
<line x1="258.00" y1="407.50" x2="304.60" y2="407.50" stroke="#000" stroke-width="1.0" stroke-linecap="butt"/>
<line x1="267.50" y1="407.50" x2="267.50" y2="410.40" stroke="#000" stroke-width="0.85" stroke-linecap="butt"/>
<line x1="281.50" y1="407.50" x2="281.50" y2="410.40" stroke="#000" stroke-width="0.85" stroke-linecap="butt"/>
<line x1="295.50" y1="407.50" x2="295.50" y2="410.40" stroke="#000" stroke-width="0.85" stroke-linecap="butt"/>
<line x1="267.15" y1="405.40" x2="267.15" y2="406.10" stroke="#2b4a80" stroke-width="0.85" stroke-linecap="butt"/>
<line x1="264.85" y1="405.40" x2="269.45" y2="405.40" stroke="#2b4a80" stroke-width="0.85" stroke-linecap="butt"/>
<rect x="262.60" y="405.90" width="9.10" height="1.60" fill="#2b4a80"/>
<line x1="281.30" y1="365.00" x2="281.30" y2="375.70" stroke="#a30028" stroke-width="0.85" stroke-linecap="butt"/>
<line x1="279.00" y1="365.00" x2="283.60" y2="365.00" stroke="#a30028" stroke-width="0.85" stroke-linecap="butt"/>
<rect x="276.75" y="375.50" width="9.10" height="32.00" fill="#a30028"/>
<line x1="295.45" y1="404.70" x2="295.45" y2="405.40" stroke="#63a739" stroke-width="0.85" stroke-linecap="butt"/>
<line x1="293.15" y1="404.70" x2="297.75" y2="404.70" stroke="#63a739" stroke-width="0.85" stroke-linecap="butt"/>
<rect x="290.90" y="405.20" width="9.10" height="2.30" fill="#63a739"/>
<line x1="267.15" y1="355.50" x2="295.45" y2="355.50" stroke="#3c3c3c" stroke-width="1.2" stroke-linecap="butt"/>
<text  x="281.30" y="353.80" font-size="5.3" text-anchor="middle" fill="#222" textLength="5.60" lengthAdjust="spacingAndGlyphs">ns</text>
<line x1="267.15" y1="361.50" x2="281.10" y2="361.50" stroke="#3c3c3c" stroke-width="1.2" stroke-linecap="butt"/>
<circle cx="272.73" cy="358.30" r="0.9" fill="#2a2a2a"/>
<circle cx="274.93" cy="358.30" r="0.9" fill="#2a2a2a"/>
<line x1="281.10" y1="362.50" x2="295.45" y2="362.50" stroke="#3c3c3c" stroke-width="1.2" stroke-linecap="butt"/>
<circle cx="287.77" cy="359.30" r="0.9" fill="#2a2a2a"/>
<circle cx="289.97" cy="359.30" r="0.9" fill="#2a2a2a"/>
<text  x="351.50" y="347.02" font-size="9.0" text-anchor="middle" fill="#111" textLength="28.00" lengthAdjust="spacingAndGlyphs">151560</text>
<line x1="327.50" y1="352.50" x2="327.50" y2="408.00" stroke="#000" stroke-width="1.0" stroke-linecap="butt"/>
<line x1="324.00" y1="354.50" x2="327.50" y2="354.50" stroke="#000" stroke-width="0.85" stroke-linecap="butt"/>
<text  x="321.90" y="356.96" font-size="7.0" text-anchor="end" fill="#111" textLength="3.66" lengthAdjust="spacingAndGlyphs">8</text>
<line x1="324.00" y1="368.50" x2="327.50" y2="368.50" stroke="#000" stroke-width="0.85" stroke-linecap="butt"/>
<text  x="321.90" y="370.16" font-size="7.0" text-anchor="end" fill="#111" textLength="3.66" lengthAdjust="spacingAndGlyphs">6</text>
<line x1="324.00" y1="381.50" x2="327.50" y2="381.50" stroke="#000" stroke-width="0.85" stroke-linecap="butt"/>
<text  x="321.90" y="383.36" font-size="7.0" text-anchor="end" fill="#111" textLength="3.66" lengthAdjust="spacingAndGlyphs">4</text>
<line x1="324.00" y1="394.50" x2="327.50" y2="394.50" stroke="#000" stroke-width="0.85" stroke-linecap="butt"/>
<text  x="321.90" y="396.56" font-size="7.0" text-anchor="end" fill="#111" textLength="3.66" lengthAdjust="spacingAndGlyphs">2</text>
<line x1="324.00" y1="407.50" x2="327.50" y2="407.50" stroke="#000" stroke-width="0.85" stroke-linecap="butt"/>
<text  x="321.90" y="409.66" font-size="7.0" text-anchor="end" fill="#111" textLength="3.66" lengthAdjust="spacingAndGlyphs">0</text>
<line x1="327.00" y1="407.50" x2="375.00" y2="407.50" stroke="#000" stroke-width="1.0" stroke-linecap="butt"/>
<line x1="336.50" y1="407.50" x2="336.50" y2="410.40" stroke="#000" stroke-width="0.85" stroke-linecap="butt"/>
<line x1="351.50" y1="407.50" x2="351.50" y2="410.40" stroke="#000" stroke-width="0.85" stroke-linecap="butt"/>
<line x1="365.50" y1="407.50" x2="365.50" y2="410.40" stroke="#000" stroke-width="0.85" stroke-linecap="butt"/>
<line x1="336.85" y1="400.50" x2="336.85" y2="402.00" stroke="#2b4a80" stroke-width="0.85" stroke-linecap="butt"/>
<line x1="334.55" y1="400.50" x2="339.15" y2="400.50" stroke="#2b4a80" stroke-width="0.85" stroke-linecap="butt"/>
<rect x="332.30" y="401.80" width="9.10" height="5.70" fill="#2b4a80"/>
<line x1="351.00" y1="368.80" x2="351.00" y2="370.50" stroke="#a30028" stroke-width="0.85" stroke-linecap="butt"/>
<line x1="348.70" y1="368.80" x2="353.30" y2="368.80" stroke="#a30028" stroke-width="0.85" stroke-linecap="butt"/>
<rect x="346.45" y="370.30" width="9.10" height="37.20" fill="#a30028"/>
<line x1="365.15" y1="401.80" x2="365.15" y2="403.00" stroke="#63a739" stroke-width="0.85" stroke-linecap="butt"/>
<line x1="362.85" y1="401.80" x2="367.45" y2="401.80" stroke="#63a739" stroke-width="0.85" stroke-linecap="butt"/>
<rect x="360.60" y="402.80" width="9.10" height="4.70" fill="#63a739"/>
<line x1="336.85" y1="358.50" x2="365.15" y2="358.50" stroke="#3c3c3c" stroke-width="1.2" stroke-linecap="butt"/>
<text  x="351.00" y="356.30" font-size="5.3" text-anchor="middle" fill="#222" textLength="5.60" lengthAdjust="spacingAndGlyphs">ns</text>
<line x1="336.85" y1="363.50" x2="350.80" y2="363.50" stroke="#3c3c3c" stroke-width="1.2" stroke-linecap="butt"/>
<circle cx="340.22" cy="360.80" r="0.9" fill="#2a2a2a"/>
<circle cx="342.42" cy="360.80" r="0.9" fill="#2a2a2a"/>
<circle cx="344.62" cy="360.80" r="0.9" fill="#2a2a2a"/>
<circle cx="346.82" cy="360.80" r="0.9" fill="#2a2a2a"/>
<line x1="350.80" y1="364.50" x2="365.15" y2="364.50" stroke="#3c3c3c" stroke-width="1.2" stroke-linecap="butt"/>
<circle cx="355.27" cy="361.80" r="0.9" fill="#2a2a2a"/>
<circle cx="357.47" cy="361.80" r="0.9" fill="#2a2a2a"/>
<circle cx="359.67" cy="361.80" r="0.9" fill="#2a2a2a"/>
<circle cx="361.88" cy="361.80" r="0.9" fill="#2a2a2a"/>
<text  x="417.70" y="347.02" font-size="9.0" text-anchor="middle" fill="#111" textLength="28.00" lengthAdjust="spacingAndGlyphs">100753</text>
<line x1="393.50" y1="352.50" x2="393.50" y2="408.00" stroke="#000" stroke-width="1.0" stroke-linecap="butt"/>
<line x1="390.00" y1="354.50" x2="393.50" y2="354.50" stroke="#000" stroke-width="0.85" stroke-linecap="butt"/>
<text  x="388.15" y="356.96" font-size="7.0" text-anchor="end" fill="#111" textLength="3.66" lengthAdjust="spacingAndGlyphs">3</text>
<line x1="390.00" y1="372.50" x2="393.50" y2="372.50" stroke="#000" stroke-width="0.85" stroke-linecap="butt"/>
<text  x="388.15" y="374.46" font-size="7.0" text-anchor="end" fill="#111" textLength="3.66" lengthAdjust="spacingAndGlyphs">2</text>
<line x1="390.00" y1="390.50" x2="393.50" y2="390.50" stroke="#000" stroke-width="0.85" stroke-linecap="butt"/>
<text  x="388.15" y="392.16" font-size="7.0" text-anchor="end" fill="#111" textLength="3.66" lengthAdjust="spacingAndGlyphs">1</text>
<line x1="390.00" y1="407.50" x2="393.50" y2="407.50" stroke="#000" stroke-width="0.85" stroke-linecap="butt"/>
<text  x="388.15" y="409.66" font-size="7.0" text-anchor="end" fill="#111" textLength="3.66" lengthAdjust="spacingAndGlyphs">0</text>
<line x1="393.00" y1="407.50" x2="441.25" y2="407.50" stroke="#000" stroke-width="1.0" stroke-linecap="butt"/>
<line x1="403.50" y1="407.50" x2="403.50" y2="410.40" stroke="#000" stroke-width="0.85" stroke-linecap="butt"/>
<line x1="417.50" y1="407.50" x2="417.50" y2="410.40" stroke="#000" stroke-width="0.85" stroke-linecap="butt"/>
<line x1="431.50" y1="407.50" x2="431.50" y2="410.40" stroke="#000" stroke-width="0.85" stroke-linecap="butt"/>
<line x1="403.10" y1="388.30" x2="403.10" y2="390.20" stroke="#2b4a80" stroke-width="0.85" stroke-linecap="butt"/>
<line x1="400.80" y1="388.30" x2="405.40" y2="388.30" stroke="#2b4a80" stroke-width="0.85" stroke-linecap="butt"/>
<rect x="398.55" y="390.00" width="9.10" height="17.50" fill="#2b4a80"/>
<line x1="417.25" y1="364.30" x2="417.25" y2="370.20" stroke="#a30028" stroke-width="0.85" stroke-linecap="butt"/>
<line x1="414.95" y1="364.30" x2="419.55" y2="364.30" stroke="#a30028" stroke-width="0.85" stroke-linecap="butt"/>
<rect x="412.70" y="370.00" width="9.10" height="37.50" fill="#a30028"/>
<line x1="431.40" y1="380.50" x2="431.40" y2="383.20" stroke="#63a739" stroke-width="0.85" stroke-linecap="butt"/>
<line x1="429.10" y1="380.50" x2="433.70" y2="380.50" stroke="#63a739" stroke-width="0.85" stroke-linecap="butt"/>
<rect x="426.85" y="383.00" width="9.10" height="24.50" fill="#63a739"/>
<line x1="403.10" y1="356.50" x2="431.40" y2="356.50" stroke="#3c3c3c" stroke-width="1.2" stroke-linecap="butt"/>
<text  x="417.25" y="354.60" font-size="5.3" text-anchor="middle" fill="#222" textLength="5.60" lengthAdjust="spacingAndGlyphs">ns</text>
<line x1="403.10" y1="361.50" x2="417.05" y2="361.50" stroke="#3c3c3c" stroke-width="1.2" stroke-linecap="butt"/>
<circle cx="407.57" cy="359.10" r="0.9" fill="#2a2a2a"/>
<circle cx="409.77" cy="359.10" r="0.9" fill="#2a2a2a"/>
<circle cx="411.97" cy="359.10" r="0.9" fill="#2a2a2a"/>
<line x1="417.05" y1="362.50" x2="431.40" y2="362.50" stroke="#3c3c3c" stroke-width="1.2" stroke-linecap="butt"/>
<circle cx="423.72" cy="360.10" r="0.9" fill="#2a2a2a"/>
<circle cx="425.92" cy="360.10" r="0.9" fill="#2a2a2a"/>
<text  x="489.70" y="347.02" font-size="9.0" text-anchor="middle" fill="#111" textLength="28.00" lengthAdjust="spacingAndGlyphs">100857</text>
<line x1="465.50" y1="352.50" x2="465.50" y2="408.00" stroke="#000" stroke-width="1.0" stroke-linecap="butt"/>
<line x1="462.00" y1="354.50" x2="465.50" y2="354.50" stroke="#000" stroke-width="0.85" stroke-linecap="butt"/>
<text  x="459.80" y="356.96" font-size="7.0" text-anchor="end" fill="#111" textLength="9.15" lengthAdjust="spacingAndGlyphs">2.5</text>
<line x1="462.00" y1="365.50" x2="465.50" y2="365.50" stroke="#000" stroke-width="0.85" stroke-linecap="butt"/>
<text  x="459.80" y="367.46" font-size="7.0" text-anchor="end" fill="#111" textLength="9.15" lengthAdjust="spacingAndGlyphs">2.0</text>
<line x1="462.00" y1="375.50" x2="465.50" y2="375.50" stroke="#000" stroke-width="0.85" stroke-linecap="butt"/>
<text  x="459.80" y="377.96" font-size="7.0" text-anchor="end" fill="#111" textLength="9.15" lengthAdjust="spacingAndGlyphs">1.5</text>
<line x1="462.00" y1="386.50" x2="465.50" y2="386.50" stroke="#000" stroke-width="0.85" stroke-linecap="butt"/>
<text  x="459.80" y="388.56" font-size="7.0" text-anchor="end" fill="#111" textLength="9.15" lengthAdjust="spacingAndGlyphs">1.0</text>
<line x1="462.00" y1="397.50" x2="465.50" y2="397.50" stroke="#000" stroke-width="0.85" stroke-linecap="butt"/>
<text  x="459.80" y="399.16" font-size="7.0" text-anchor="end" fill="#111" textLength="9.15" lengthAdjust="spacingAndGlyphs">0.5</text>
<line x1="462.00" y1="407.50" x2="465.50" y2="407.50" stroke="#000" stroke-width="0.85" stroke-linecap="butt"/>
<text  x="459.80" y="409.66" font-size="7.0" text-anchor="end" fill="#111" textLength="9.15" lengthAdjust="spacingAndGlyphs">0.0</text>
<line x1="465.00" y1="407.50" x2="512.90" y2="407.50" stroke="#000" stroke-width="1.0" stroke-linecap="butt"/>
<line x1="474.50" y1="407.50" x2="474.50" y2="410.40" stroke="#000" stroke-width="0.85" stroke-linecap="butt"/>
<line x1="488.50" y1="407.50" x2="488.50" y2="410.40" stroke="#000" stroke-width="0.85" stroke-linecap="butt"/>
<line x1="503.50" y1="407.50" x2="503.50" y2="410.40" stroke="#000" stroke-width="0.85" stroke-linecap="butt"/>
<line x1="474.75" y1="384.50" x2="474.75" y2="386.70" stroke="#2b4a80" stroke-width="0.85" stroke-linecap="butt"/>
<line x1="472.45" y1="384.50" x2="477.05" y2="384.50" stroke="#2b4a80" stroke-width="0.85" stroke-linecap="butt"/>
<rect x="470.20" y="386.50" width="9.10" height="21.00" fill="#2b4a80"/>
<line x1="488.90" y1="363.00" x2="488.90" y2="364.50" stroke="#a30028" stroke-width="0.85" stroke-linecap="butt"/>
<line x1="486.60" y1="363.00" x2="491.20" y2="363.00" stroke="#a30028" stroke-width="0.85" stroke-linecap="butt"/>
<rect x="484.35" y="364.30" width="9.10" height="43.20" fill="#a30028"/>
<line x1="503.05" y1="390.30" x2="503.05" y2="391.00" stroke="#63a739" stroke-width="0.85" stroke-linecap="butt"/>
<line x1="500.75" y1="390.30" x2="505.35" y2="390.30" stroke="#63a739" stroke-width="0.85" stroke-linecap="butt"/>
<rect x="498.50" y="390.80" width="9.10" height="16.70" fill="#63a739"/>
<line x1="474.75" y1="354.50" x2="503.05" y2="354.50" stroke="#3c3c3c" stroke-width="1.2" stroke-linecap="butt"/>
<circle cx="488.90" cy="351.70" r="0.9" fill="#2a2a2a"/>
<line x1="474.75" y1="360.50" x2="488.70" y2="360.50" stroke="#3c3c3c" stroke-width="1.2" stroke-linecap="butt"/>
<circle cx="478.12" cy="357.30" r="0.9" fill="#2a2a2a"/>
<circle cx="480.32" cy="357.30" r="0.9" fill="#2a2a2a"/>
<circle cx="482.52" cy="357.30" r="0.9" fill="#2a2a2a"/>
<circle cx="484.72" cy="357.30" r="0.9" fill="#2a2a2a"/>
<line x1="488.70" y1="361.50" x2="503.05" y2="361.50" stroke="#3c3c3c" stroke-width="1.2" stroke-linecap="butt"/>
<circle cx="493.17" cy="358.60" r="0.9" fill="#2a2a2a"/>
<circle cx="495.37" cy="358.60" r="0.9" fill="#2a2a2a"/>
<circle cx="497.57" cy="358.60" r="0.9" fill="#2a2a2a"/>
<circle cx="499.77" cy="358.60" r="0.9" fill="#2a2a2a"/>
<text transform="translate(226.30,450.30) rotate(-90)" x="0.00" y="3.11" font-size="8.7" text-anchor="middle" fill="#111" textLength="40.50" lengthAdjust="spacingAndGlyphs">Relative IFNβ</text>
<text transform="translate(236.20,450.30) rotate(-90)" x="0.00" y="3.11" font-size="8.7" text-anchor="middle" fill="#111" textLength="32.50" lengthAdjust="spacingAndGlyphs">expression</text>
<line x1="258.50" y1="423.00" x2="258.50" y2="479.00" stroke="#000" stroke-width="1.0" stroke-linecap="butt"/>
<line x1="255.00" y1="425.50" x2="258.50" y2="425.50" stroke="#000" stroke-width="0.85" stroke-linecap="butt"/>
<text  x="252.90" y="427.66" font-size="7.0" text-anchor="end" fill="#111" textLength="7.32" lengthAdjust="spacingAndGlyphs">50</text>
<line x1="255.00" y1="436.50" x2="258.50" y2="436.50" stroke="#000" stroke-width="0.85" stroke-linecap="butt"/>
<text  x="252.90" y="438.36" font-size="7.0" text-anchor="end" fill="#111" textLength="7.32" lengthAdjust="spacingAndGlyphs">40</text>
<line x1="255.00" y1="446.50" x2="258.50" y2="446.50" stroke="#000" stroke-width="0.85" stroke-linecap="butt"/>
<text  x="252.90" y="448.96" font-size="7.0" text-anchor="end" fill="#111" textLength="7.32" lengthAdjust="spacingAndGlyphs">30</text>
<line x1="255.00" y1="457.50" x2="258.50" y2="457.50" stroke="#000" stroke-width="0.85" stroke-linecap="butt"/>
<text  x="252.90" y="459.66" font-size="7.0" text-anchor="end" fill="#111" textLength="7.32" lengthAdjust="spacingAndGlyphs">20</text>
<line x1="255.00" y1="468.50" x2="258.50" y2="468.50" stroke="#000" stroke-width="0.85" stroke-linecap="butt"/>
<text  x="252.90" y="470.26" font-size="7.0" text-anchor="end" fill="#111" textLength="7.32" lengthAdjust="spacingAndGlyphs">10</text>
<line x1="255.00" y1="478.50" x2="258.50" y2="478.50" stroke="#000" stroke-width="0.85" stroke-linecap="butt"/>
<text  x="252.90" y="480.91" font-size="7.0" text-anchor="end" fill="#111" textLength="3.66" lengthAdjust="spacingAndGlyphs">0</text>
<line x1="258.00" y1="478.50" x2="304.60" y2="478.50" stroke="#000" stroke-width="1.0" stroke-linecap="butt"/>
<line x1="267.50" y1="478.50" x2="267.50" y2="481.40" stroke="#000" stroke-width="0.85" stroke-linecap="butt"/>
<line x1="281.50" y1="478.50" x2="281.50" y2="481.40" stroke="#000" stroke-width="0.85" stroke-linecap="butt"/>
<line x1="295.50" y1="478.50" x2="295.50" y2="481.40" stroke="#000" stroke-width="0.85" stroke-linecap="butt"/>
<rect x="262.60" y="477.80" width="9.10" height="0.95" fill="#2b4a80"/>
<line x1="281.30" y1="437.00" x2="281.30" y2="448.70" stroke="#a30028" stroke-width="0.85" stroke-linecap="butt"/>
<line x1="279.00" y1="437.00" x2="283.60" y2="437.00" stroke="#a30028" stroke-width="0.85" stroke-linecap="butt"/>
<rect x="276.75" y="448.50" width="9.10" height="30.25" fill="#a30028"/>
<rect x="290.90" y="477.90" width="9.10" height="0.85" fill="#63a739"/>
<line x1="267.15" y1="426.50" x2="295.45" y2="426.50" stroke="#3c3c3c" stroke-width="1.2" stroke-linecap="butt"/>
<text  x="281.30" y="424.80" font-size="5.3" text-anchor="middle" fill="#222" textLength="5.60" lengthAdjust="spacingAndGlyphs">ns</text>
<line x1="267.15" y1="431.50" x2="281.10" y2="431.50" stroke="#3c3c3c" stroke-width="1.2" stroke-linecap="butt"/>
<circle cx="272.73" cy="429.10" r="0.9" fill="#2a2a2a"/>
<circle cx="274.93" cy="429.10" r="0.9" fill="#2a2a2a"/>
<line x1="281.10" y1="432.50" x2="295.45" y2="432.50" stroke="#3c3c3c" stroke-width="1.2" stroke-linecap="butt"/>
<circle cx="287.77" cy="430.10" r="0.9" fill="#2a2a2a"/>
<circle cx="289.97" cy="430.10" r="0.9" fill="#2a2a2a"/>
<line x1="327.50" y1="423.00" x2="327.50" y2="479.00" stroke="#000" stroke-width="1.0" stroke-linecap="butt"/>
<line x1="324.00" y1="425.50" x2="327.50" y2="425.50" stroke="#000" stroke-width="0.85" stroke-linecap="butt"/>
<text  x="321.90" y="427.66" font-size="7.0" text-anchor="end" fill="#111" textLength="7.32" lengthAdjust="spacingAndGlyphs">10</text>
<line x1="324.00" y1="436.50" x2="327.50" y2="436.50" stroke="#000" stroke-width="0.85" stroke-linecap="butt"/>
<text  x="321.90" y="438.36" font-size="7.0" text-anchor="end" fill="#111" textLength="3.66" lengthAdjust="spacingAndGlyphs">8</text>
<line x1="324.00" y1="446.50" x2="327.50" y2="446.50" stroke="#000" stroke-width="0.85" stroke-linecap="butt"/>
<text  x="321.90" y="448.96" font-size="7.0" text-anchor="end" fill="#111" textLength="3.66" lengthAdjust="spacingAndGlyphs">6</text>
<line x1="324.00" y1="457.50" x2="327.50" y2="457.50" stroke="#000" stroke-width="0.85" stroke-linecap="butt"/>
<text  x="321.90" y="459.66" font-size="7.0" text-anchor="end" fill="#111" textLength="3.66" lengthAdjust="spacingAndGlyphs">4</text>
<line x1="324.00" y1="468.50" x2="327.50" y2="468.50" stroke="#000" stroke-width="0.85" stroke-linecap="butt"/>
<text  x="321.90" y="470.26" font-size="7.0" text-anchor="end" fill="#111" textLength="3.66" lengthAdjust="spacingAndGlyphs">2</text>
<line x1="324.00" y1="478.50" x2="327.50" y2="478.50" stroke="#000" stroke-width="0.85" stroke-linecap="butt"/>
<text  x="321.90" y="480.91" font-size="7.0" text-anchor="end" fill="#111" textLength="3.66" lengthAdjust="spacingAndGlyphs">0</text>
<line x1="327.00" y1="478.50" x2="375.00" y2="478.50" stroke="#000" stroke-width="1.0" stroke-linecap="butt"/>
<line x1="336.50" y1="478.50" x2="336.50" y2="481.40" stroke="#000" stroke-width="0.85" stroke-linecap="butt"/>
<line x1="351.50" y1="478.50" x2="351.50" y2="481.40" stroke="#000" stroke-width="0.85" stroke-linecap="butt"/>
<line x1="365.50" y1="478.50" x2="365.50" y2="481.40" stroke="#000" stroke-width="0.85" stroke-linecap="butt"/>
<line x1="336.85" y1="470.80" x2="336.85" y2="473.50" stroke="#2b4a80" stroke-width="0.85" stroke-linecap="butt"/>
<line x1="334.55" y1="470.80" x2="339.15" y2="470.80" stroke="#2b4a80" stroke-width="0.85" stroke-linecap="butt"/>
<rect x="332.30" y="473.30" width="9.10" height="5.45" fill="#2b4a80"/>
<line x1="351.00" y1="434.50" x2="351.00" y2="443.50" stroke="#a30028" stroke-width="0.85" stroke-linecap="butt"/>
<line x1="348.70" y1="434.50" x2="353.30" y2="434.50" stroke="#a30028" stroke-width="0.85" stroke-linecap="butt"/>
<rect x="346.45" y="443.30" width="9.10" height="35.45" fill="#a30028"/>
<line x1="365.15" y1="465.80" x2="365.15" y2="471.20" stroke="#63a739" stroke-width="0.85" stroke-linecap="butt"/>
<line x1="362.85" y1="465.80" x2="367.45" y2="465.80" stroke="#63a739" stroke-width="0.85" stroke-linecap="butt"/>
<rect x="360.60" y="471.00" width="9.10" height="7.75" fill="#63a739"/>
<line x1="336.85" y1="426.50" x2="365.15" y2="426.50" stroke="#3c3c3c" stroke-width="1.2" stroke-linecap="butt"/>
<text  x="351.00" y="424.80" font-size="5.3" text-anchor="middle" fill="#222" textLength="5.60" lengthAdjust="spacingAndGlyphs">ns</text>
<line x1="336.85" y1="432.50" x2="350.80" y2="432.50" stroke="#3c3c3c" stroke-width="1.2" stroke-linecap="butt"/>
<circle cx="342.42" cy="429.30" r="0.9" fill="#2a2a2a"/>
<circle cx="344.62" cy="429.30" r="0.9" fill="#2a2a2a"/>
<line x1="350.80" y1="433.50" x2="365.15" y2="433.50" stroke="#3c3c3c" stroke-width="1.2" stroke-linecap="butt"/>
<circle cx="357.47" cy="430.30" r="0.9" fill="#2a2a2a"/>
<circle cx="359.67" cy="430.30" r="0.9" fill="#2a2a2a"/>
<line x1="393.50" y1="423.00" x2="393.50" y2="479.00" stroke="#000" stroke-width="1.0" stroke-linecap="butt"/>
<line x1="390.00" y1="425.50" x2="393.50" y2="425.50" stroke="#000" stroke-width="0.85" stroke-linecap="butt"/>
<text  x="388.15" y="427.66" font-size="7.0" text-anchor="end" fill="#111" textLength="3.66" lengthAdjust="spacingAndGlyphs">5</text>
<line x1="390.00" y1="436.50" x2="393.50" y2="436.50" stroke="#000" stroke-width="0.85" stroke-linecap="butt"/>
<text  x="388.15" y="438.36" font-size="7.0" text-anchor="end" fill="#111" textLength="3.66" lengthAdjust="spacingAndGlyphs">4</text>
<line x1="390.00" y1="446.50" x2="393.50" y2="446.50" stroke="#000" stroke-width="0.85" stroke-linecap="butt"/>
<text  x="388.15" y="448.96" font-size="7.0" text-anchor="end" fill="#111" textLength="3.66" lengthAdjust="spacingAndGlyphs">3</text>
<line x1="390.00" y1="457.50" x2="393.50" y2="457.50" stroke="#000" stroke-width="0.85" stroke-linecap="butt"/>
<text  x="388.15" y="459.66" font-size="7.0" text-anchor="end" fill="#111" textLength="3.66" lengthAdjust="spacingAndGlyphs">2</text>
<line x1="390.00" y1="468.50" x2="393.50" y2="468.50" stroke="#000" stroke-width="0.85" stroke-linecap="butt"/>
<text  x="388.15" y="470.26" font-size="7.0" text-anchor="end" fill="#111" textLength="3.66" lengthAdjust="spacingAndGlyphs">1</text>
<line x1="390.00" y1="478.50" x2="393.50" y2="478.50" stroke="#000" stroke-width="0.85" stroke-linecap="butt"/>
<text  x="388.15" y="480.91" font-size="7.0" text-anchor="end" fill="#111" textLength="3.66" lengthAdjust="spacingAndGlyphs">0</text>
<line x1="393.00" y1="478.50" x2="441.25" y2="478.50" stroke="#000" stroke-width="1.0" stroke-linecap="butt"/>
<line x1="403.50" y1="478.50" x2="403.50" y2="481.40" stroke="#000" stroke-width="0.85" stroke-linecap="butt"/>
<line x1="417.50" y1="478.50" x2="417.50" y2="481.40" stroke="#000" stroke-width="0.85" stroke-linecap="butt"/>
<line x1="431.50" y1="478.50" x2="431.50" y2="481.40" stroke="#000" stroke-width="0.85" stroke-linecap="butt"/>
<line x1="403.10" y1="469.30" x2="403.10" y2="471.20" stroke="#2b4a80" stroke-width="0.85" stroke-linecap="butt"/>
<line x1="400.80" y1="469.30" x2="405.40" y2="469.30" stroke="#2b4a80" stroke-width="0.85" stroke-linecap="butt"/>
<rect x="398.55" y="471.00" width="9.10" height="7.75" fill="#2b4a80"/>
<line x1="417.25" y1="436.50" x2="417.25" y2="441.00" stroke="#a30028" stroke-width="0.85" stroke-linecap="butt"/>
<line x1="414.95" y1="436.50" x2="419.55" y2="436.50" stroke="#a30028" stroke-width="0.85" stroke-linecap="butt"/>
<rect x="412.70" y="440.80" width="9.10" height="37.95" fill="#a30028"/>
<rect x="426.85" y="462.20" width="9.10" height="16.55" fill="#63a739"/>
<line x1="403.10" y1="425.50" x2="431.40" y2="425.50" stroke="#3c3c3c" stroke-width="1.2" stroke-linecap="butt"/>
<text  x="417.25" y="423.30" font-size="5.3" text-anchor="middle" fill="#222" textLength="5.60" lengthAdjust="spacingAndGlyphs">ns</text>
<line x1="403.10" y1="430.50" x2="417.05" y2="430.50" stroke="#3c3c3c" stroke-width="1.2" stroke-linecap="butt"/>
<circle cx="408.67" cy="428.10" r="0.9" fill="#2a2a2a"/>
<circle cx="410.87" cy="428.10" r="0.9" fill="#2a2a2a"/>
<line x1="417.05" y1="431.50" x2="431.40" y2="431.50" stroke="#3c3c3c" stroke-width="1.2" stroke-linecap="butt"/>
<circle cx="423.72" cy="429.10" r="0.9" fill="#2a2a2a"/>
<circle cx="425.92" cy="429.10" r="0.9" fill="#2a2a2a"/>
<line x1="465.50" y1="423.00" x2="465.50" y2="479.00" stroke="#000" stroke-width="1.0" stroke-linecap="butt"/>
<line x1="462.00" y1="425.50" x2="465.50" y2="425.50" stroke="#000" stroke-width="0.85" stroke-linecap="butt"/>
<text  x="459.80" y="427.66" font-size="7.0" text-anchor="end" fill="#111" textLength="3.66" lengthAdjust="spacingAndGlyphs">5</text>
<line x1="462.00" y1="436.50" x2="465.50" y2="436.50" stroke="#000" stroke-width="0.85" stroke-linecap="butt"/>
<text  x="459.80" y="438.36" font-size="7.0" text-anchor="end" fill="#111" textLength="3.66" lengthAdjust="spacingAndGlyphs">4</text>
<line x1="462.00" y1="446.50" x2="465.50" y2="446.50" stroke="#000" stroke-width="0.85" stroke-linecap="butt"/>
<text  x="459.80" y="448.96" font-size="7.0" text-anchor="end" fill="#111" textLength="3.66" lengthAdjust="spacingAndGlyphs">3</text>
<line x1="462.00" y1="457.50" x2="465.50" y2="457.50" stroke="#000" stroke-width="0.85" stroke-linecap="butt"/>
<text  x="459.80" y="459.66" font-size="7.0" text-anchor="end" fill="#111" textLength="3.66" lengthAdjust="spacingAndGlyphs">2</text>
<line x1="462.00" y1="468.50" x2="465.50" y2="468.50" stroke="#000" stroke-width="0.85" stroke-linecap="butt"/>
<text  x="459.80" y="470.26" font-size="7.0" text-anchor="end" fill="#111" textLength="3.66" lengthAdjust="spacingAndGlyphs">1</text>
<line x1="462.00" y1="478.50" x2="465.50" y2="478.50" stroke="#000" stroke-width="0.85" stroke-linecap="butt"/>
<text  x="459.80" y="480.91" font-size="7.0" text-anchor="end" fill="#111" textLength="3.66" lengthAdjust="spacingAndGlyphs">0</text>
<line x1="465.00" y1="478.50" x2="512.90" y2="478.50" stroke="#000" stroke-width="1.0" stroke-linecap="butt"/>
<line x1="474.50" y1="478.50" x2="474.50" y2="481.40" stroke="#000" stroke-width="0.85" stroke-linecap="butt"/>
<line x1="488.50" y1="478.50" x2="488.50" y2="481.40" stroke="#000" stroke-width="0.85" stroke-linecap="butt"/>
<line x1="503.50" y1="478.50" x2="503.50" y2="481.40" stroke="#000" stroke-width="0.85" stroke-linecap="butt"/>
<line x1="474.75" y1="456.30" x2="474.75" y2="465.50" stroke="#2b4a80" stroke-width="0.85" stroke-linecap="butt"/>
<line x1="472.45" y1="456.30" x2="477.05" y2="456.30" stroke="#2b4a80" stroke-width="0.85" stroke-linecap="butt"/>
<rect x="470.20" y="465.30" width="9.10" height="13.45" fill="#2b4a80"/>
<line x1="488.90" y1="430.80" x2="488.90" y2="432.50" stroke="#a30028" stroke-width="0.85" stroke-linecap="butt"/>
<line x1="486.60" y1="430.80" x2="491.20" y2="430.80" stroke="#a30028" stroke-width="0.85" stroke-linecap="butt"/>
<rect x="484.35" y="432.30" width="9.10" height="46.45" fill="#a30028"/>
<line x1="503.05" y1="456.80" x2="503.05" y2="466.50" stroke="#63a739" stroke-width="0.85" stroke-linecap="butt"/>
<line x1="500.75" y1="456.80" x2="505.35" y2="456.80" stroke="#63a739" stroke-width="0.85" stroke-linecap="butt"/>
<rect x="498.50" y="466.30" width="9.10" height="12.45" fill="#63a739"/>
<line x1="474.75" y1="422.50" x2="503.05" y2="422.50" stroke="#3c3c3c" stroke-width="1.2" stroke-linecap="butt"/>
<text  x="488.90" y="420.30" font-size="5.3" text-anchor="middle" fill="#222" textLength="5.60" lengthAdjust="spacingAndGlyphs">ns</text>
<line x1="474.75" y1="427.50" x2="488.70" y2="427.50" stroke="#3c3c3c" stroke-width="1.2" stroke-linecap="butt"/>
<circle cx="480.32" cy="425.10" r="0.9" fill="#2a2a2a"/>
<circle cx="482.52" cy="425.10" r="0.9" fill="#2a2a2a"/>
<line x1="488.70" y1="428.50" x2="503.05" y2="428.50" stroke="#3c3c3c" stroke-width="1.2" stroke-linecap="butt"/>
<circle cx="495.37" cy="426.10" r="0.9" fill="#2a2a2a"/>
<circle cx="497.57" cy="426.10" r="0.9" fill="#2a2a2a"/>
<text  x="252.20" y="489.71" font-size="5.9" text-anchor="end" fill="#111" textLength="10.60" lengthAdjust="spacingAndGlyphs">Aza</text>
<text  x="252.20" y="500.21" font-size="5.9" text-anchor="end" fill="#111" textLength="17.40" lengthAdjust="spacingAndGlyphs">H-151</text>
<line x1="266.25" y1="487.60" x2="268.05" y2="487.60" stroke="#3a3a3a" stroke-width="0.75" stroke-linecap="butt"/>
<line x1="266.25" y1="498.10" x2="268.05" y2="498.10" stroke="#3a3a3a" stroke-width="0.75" stroke-linecap="butt"/>
<line x1="279.80" y1="487.60" x2="282.80" y2="487.60" stroke="#3a3a3a" stroke-width="0.75" stroke-linecap="butt"/>
<line x1="281.30" y1="486.10" x2="281.30" y2="489.10" stroke="#3a3a3a" stroke-width="0.75" stroke-linecap="butt"/>
<line x1="280.40" y1="498.10" x2="282.20" y2="498.10" stroke="#3a3a3a" stroke-width="0.75" stroke-linecap="butt"/>
<line x1="293.95" y1="487.60" x2="296.95" y2="487.60" stroke="#3a3a3a" stroke-width="0.75" stroke-linecap="butt"/>
<line x1="295.45" y1="486.10" x2="295.45" y2="489.10" stroke="#3a3a3a" stroke-width="0.75" stroke-linecap="butt"/>
<line x1="293.95" y1="498.10" x2="296.95" y2="498.10" stroke="#3a3a3a" stroke-width="0.75" stroke-linecap="butt"/>
<line x1="295.45" y1="496.60" x2="295.45" y2="499.60" stroke="#3a3a3a" stroke-width="0.75" stroke-linecap="butt"/>
<line x1="335.95" y1="487.60" x2="337.75" y2="487.60" stroke="#3a3a3a" stroke-width="0.75" stroke-linecap="butt"/>
<line x1="335.95" y1="498.10" x2="337.75" y2="498.10" stroke="#3a3a3a" stroke-width="0.75" stroke-linecap="butt"/>
<line x1="349.50" y1="487.60" x2="352.50" y2="487.60" stroke="#3a3a3a" stroke-width="0.75" stroke-linecap="butt"/>
<line x1="351.00" y1="486.10" x2="351.00" y2="489.10" stroke="#3a3a3a" stroke-width="0.75" stroke-linecap="butt"/>
<line x1="350.10" y1="498.10" x2="351.90" y2="498.10" stroke="#3a3a3a" stroke-width="0.75" stroke-linecap="butt"/>
<line x1="363.65" y1="487.60" x2="366.65" y2="487.60" stroke="#3a3a3a" stroke-width="0.75" stroke-linecap="butt"/>
<line x1="365.15" y1="486.10" x2="365.15" y2="489.10" stroke="#3a3a3a" stroke-width="0.75" stroke-linecap="butt"/>
<line x1="363.65" y1="498.10" x2="366.65" y2="498.10" stroke="#3a3a3a" stroke-width="0.75" stroke-linecap="butt"/>
<line x1="365.15" y1="496.60" x2="365.15" y2="499.60" stroke="#3a3a3a" stroke-width="0.75" stroke-linecap="butt"/>
<line x1="402.20" y1="487.60" x2="404.00" y2="487.60" stroke="#3a3a3a" stroke-width="0.75" stroke-linecap="butt"/>
<line x1="402.20" y1="498.10" x2="404.00" y2="498.10" stroke="#3a3a3a" stroke-width="0.75" stroke-linecap="butt"/>
<line x1="415.75" y1="487.60" x2="418.75" y2="487.60" stroke="#3a3a3a" stroke-width="0.75" stroke-linecap="butt"/>
<line x1="417.25" y1="486.10" x2="417.25" y2="489.10" stroke="#3a3a3a" stroke-width="0.75" stroke-linecap="butt"/>
<line x1="416.35" y1="498.10" x2="418.15" y2="498.10" stroke="#3a3a3a" stroke-width="0.75" stroke-linecap="butt"/>
<line x1="429.90" y1="487.60" x2="432.90" y2="487.60" stroke="#3a3a3a" stroke-width="0.75" stroke-linecap="butt"/>
<line x1="431.40" y1="486.10" x2="431.40" y2="489.10" stroke="#3a3a3a" stroke-width="0.75" stroke-linecap="butt"/>
<line x1="429.90" y1="498.10" x2="432.90" y2="498.10" stroke="#3a3a3a" stroke-width="0.75" stroke-linecap="butt"/>
<line x1="431.40" y1="496.60" x2="431.40" y2="499.60" stroke="#3a3a3a" stroke-width="0.75" stroke-linecap="butt"/>
<line x1="473.85" y1="487.60" x2="475.65" y2="487.60" stroke="#3a3a3a" stroke-width="0.75" stroke-linecap="butt"/>
<line x1="473.85" y1="498.10" x2="475.65" y2="498.10" stroke="#3a3a3a" stroke-width="0.75" stroke-linecap="butt"/>
<line x1="487.40" y1="487.60" x2="490.40" y2="487.60" stroke="#3a3a3a" stroke-width="0.75" stroke-linecap="butt"/>
<line x1="488.90" y1="486.10" x2="488.90" y2="489.10" stroke="#3a3a3a" stroke-width="0.75" stroke-linecap="butt"/>
<line x1="488.00" y1="498.10" x2="489.80" y2="498.10" stroke="#3a3a3a" stroke-width="0.75" stroke-linecap="butt"/>
<line x1="501.55" y1="487.60" x2="504.55" y2="487.60" stroke="#3a3a3a" stroke-width="0.75" stroke-linecap="butt"/>
<line x1="503.05" y1="486.10" x2="503.05" y2="489.10" stroke="#3a3a3a" stroke-width="0.75" stroke-linecap="butt"/>
<line x1="501.55" y1="498.10" x2="504.55" y2="498.10" stroke="#3a3a3a" stroke-width="0.75" stroke-linecap="butt"/>
<line x1="503.05" y1="496.60" x2="503.05" y2="499.60" stroke="#3a3a3a" stroke-width="0.75" stroke-linecap="butt"/>
<text transform="translate(11.50,566.60) rotate(-90)" x="0.00" y="3.11" font-size="8.7" text-anchor="middle" fill="#111" textLength="83.00" lengthAdjust="spacingAndGlyphs">% increase in DNT-mediated</text>
<text transform="translate(21.30,567.30) rotate(-90)" x="0.00" y="3.11" font-size="8.7" text-anchor="middle" fill="#111" textLength="77.50" lengthAdjust="spacingAndGlyphs">cytotoxicity by azacytidine</text>
<line x1="47.50" y1="515.70" x2="47.50" y2="554.00" stroke="#000" stroke-width="1.0" stroke-linecap="butt"/>
<line x1="44.00" y1="518.50" x2="47.50" y2="518.50" stroke="#000" stroke-width="0.85" stroke-linecap="butt"/>
<text  x="41.40" y="520.46" font-size="7.0" text-anchor="end" fill="#111" textLength="10.28" lengthAdjust="spacingAndGlyphs">150</text>
<line x1="44.00" y1="530.50" x2="47.50" y2="530.50" stroke="#000" stroke-width="0.85" stroke-linecap="butt"/>
<text  x="41.40" y="532.16" font-size="7.0" text-anchor="end" fill="#111" textLength="10.28" lengthAdjust="spacingAndGlyphs">100</text>
<line x1="44.00" y1="541.50" x2="47.50" y2="541.50" stroke="#000" stroke-width="0.85" stroke-linecap="butt"/>
<text  x="41.40" y="543.86" font-size="7.0" text-anchor="end" fill="#111" textLength="6.85" lengthAdjust="spacingAndGlyphs">50</text>
<line x1="44.00" y1="553.50" x2="47.50" y2="553.50" stroke="#000" stroke-width="0.85" stroke-linecap="butt"/>
<text  x="41.40" y="555.41" font-size="7.0" text-anchor="end" fill="#111" textLength="3.43" lengthAdjust="spacingAndGlyphs">0</text>
<line x1="47.00" y1="553.50" x2="85.00" y2="553.50" stroke="#000" stroke-width="1.0" stroke-linecap="butt"/>
<line x1="65.50" y1="553.50" x2="65.50" y2="556.40" stroke="#000" stroke-width="0.85" stroke-linecap="butt"/>
<line x1="57.45" y1="523.80" x2="57.45" y2="525.70" stroke="#2e2e2e" stroke-width="0.85" stroke-linecap="butt"/>
<line x1="54.95" y1="523.80" x2="59.95" y2="523.80" stroke="#2e2e2e" stroke-width="0.85" stroke-linecap="butt"/>
<rect x="52.40" y="525.50" width="10.10" height="27.75" fill="#2b4a80"/>
<line x1="73.65" y1="550.50" x2="73.65" y2="552.20" stroke="#2e2e2e" stroke-width="0.85" stroke-linecap="butt"/>
<line x1="71.15" y1="550.50" x2="76.15" y2="550.50" stroke="#2e2e2e" stroke-width="0.85" stroke-linecap="butt"/>
<rect x="68.60" y="552.00" width="10.10" height="1.25" fill="#a30028"/>
<line x1="57.40" y1="521.50" x2="73.70" y2="521.50" stroke="#3c3c3c" stroke-width="1.2" stroke-linecap="butt"/>
<circle cx="62.25" cy="518.80" r="0.9" fill="#2a2a2a"/>
<circle cx="64.45" cy="518.80" r="0.9" fill="#2a2a2a"/>
<circle cx="66.65" cy="518.80" r="0.9" fill="#2a2a2a"/>
<circle cx="68.85" cy="518.80" r="0.9" fill="#2a2a2a"/>
<text  x="65.40" y="564.71" font-size="6.3" text-anchor="middle" fill="#111" textLength="31.00" lengthAdjust="spacingAndGlyphs">OCI-AML2</text>
<line x1="111.50" y1="515.70" x2="111.50" y2="554.00" stroke="#000" stroke-width="1.0" stroke-linecap="butt"/>
<line x1="108.00" y1="518.50" x2="111.50" y2="518.50" stroke="#000" stroke-width="0.85" stroke-linecap="butt"/>
<text  x="106.15" y="520.46" font-size="7.0" text-anchor="end" fill="#111" textLength="10.28" lengthAdjust="spacingAndGlyphs">200</text>
<line x1="108.00" y1="527.50" x2="111.50" y2="527.50" stroke="#000" stroke-width="0.85" stroke-linecap="butt"/>
<text  x="106.15" y="529.16" font-size="7.0" text-anchor="end" fill="#111" textLength="10.28" lengthAdjust="spacingAndGlyphs">150</text>
<line x1="108.00" y1="535.50" x2="111.50" y2="535.50" stroke="#000" stroke-width="0.85" stroke-linecap="butt"/>
<text  x="106.15" y="537.96" font-size="7.0" text-anchor="end" fill="#111" textLength="10.28" lengthAdjust="spacingAndGlyphs">100</text>
<line x1="108.00" y1="544.50" x2="111.50" y2="544.50" stroke="#000" stroke-width="0.85" stroke-linecap="butt"/>
<text  x="106.15" y="546.66" font-size="7.0" text-anchor="end" fill="#111" textLength="6.85" lengthAdjust="spacingAndGlyphs">50</text>
<line x1="108.00" y1="553.50" x2="111.50" y2="553.50" stroke="#000" stroke-width="0.85" stroke-linecap="butt"/>
<text  x="106.15" y="555.41" font-size="7.0" text-anchor="end" fill="#111" textLength="3.43" lengthAdjust="spacingAndGlyphs">0</text>
<line x1="111.00" y1="553.50" x2="149.75" y2="553.50" stroke="#000" stroke-width="1.0" stroke-linecap="butt"/>
<line x1="130.50" y1="553.50" x2="130.50" y2="556.40" stroke="#000" stroke-width="0.85" stroke-linecap="butt"/>
<line x1="122.20" y1="521.50" x2="122.20" y2="524.70" stroke="#2e2e2e" stroke-width="0.85" stroke-linecap="butt"/>
<line x1="119.70" y1="521.50" x2="124.70" y2="521.50" stroke="#2e2e2e" stroke-width="0.85" stroke-linecap="butt"/>
<rect x="117.15" y="524.50" width="10.10" height="28.75" fill="#2b4a80"/>
<line x1="138.40" y1="544.30" x2="138.40" y2="546.50" stroke="#2e2e2e" stroke-width="0.85" stroke-linecap="butt"/>
<line x1="135.90" y1="544.30" x2="140.90" y2="544.30" stroke="#2e2e2e" stroke-width="0.85" stroke-linecap="butt"/>
<rect x="133.35" y="546.30" width="10.10" height="6.95" fill="#a30028"/>
<line x1="122.15" y1="519.50" x2="138.45" y2="519.50" stroke="#3c3c3c" stroke-width="1.2" stroke-linecap="butt"/>
<circle cx="128.10" cy="516.60" r="0.9" fill="#2a2a2a"/>
<circle cx="130.30" cy="516.60" r="0.9" fill="#2a2a2a"/>
<circle cx="132.50" cy="516.60" r="0.9" fill="#2a2a2a"/>
<text  x="130.15" y="564.71" font-size="6.3" text-anchor="middle" fill="#111" textLength="31.00" lengthAdjust="spacingAndGlyphs">OCI-AML3</text>
<line x1="175.50" y1="515.70" x2="175.50" y2="554.00" stroke="#000" stroke-width="1.0" stroke-linecap="butt"/>
<line x1="172.00" y1="518.50" x2="175.50" y2="518.50" stroke="#000" stroke-width="0.85" stroke-linecap="butt"/>
<text  x="169.40" y="520.46" font-size="7.0" text-anchor="end" fill="#111" textLength="6.85" lengthAdjust="spacingAndGlyphs">50</text>
<line x1="172.00" y1="525.50" x2="175.50" y2="525.50" stroke="#000" stroke-width="0.85" stroke-linecap="butt"/>
<text  x="169.40" y="527.46" font-size="7.0" text-anchor="end" fill="#111" textLength="6.85" lengthAdjust="spacingAndGlyphs">40</text>
<line x1="172.00" y1="532.50" x2="175.50" y2="532.50" stroke="#000" stroke-width="0.85" stroke-linecap="butt"/>
<text  x="169.40" y="534.46" font-size="7.0" text-anchor="end" fill="#111" textLength="6.85" lengthAdjust="spacingAndGlyphs">30</text>
<line x1="172.00" y1="539.50" x2="175.50" y2="539.50" stroke="#000" stroke-width="0.85" stroke-linecap="butt"/>
<text  x="169.40" y="541.46" font-size="7.0" text-anchor="end" fill="#111" textLength="6.85" lengthAdjust="spacingAndGlyphs">20</text>
<line x1="172.00" y1="546.50" x2="175.50" y2="546.50" stroke="#000" stroke-width="0.85" stroke-linecap="butt"/>
<text  x="169.40" y="548.46" font-size="7.0" text-anchor="end" fill="#111" textLength="6.85" lengthAdjust="spacingAndGlyphs">10</text>
<line x1="172.00" y1="553.50" x2="175.50" y2="553.50" stroke="#000" stroke-width="0.85" stroke-linecap="butt"/>
<text  x="169.40" y="555.41" font-size="7.0" text-anchor="end" fill="#111" textLength="3.43" lengthAdjust="spacingAndGlyphs">0</text>
<line x1="175.00" y1="553.50" x2="213.00" y2="553.50" stroke="#000" stroke-width="1.0" stroke-linecap="butt"/>
<line x1="193.50" y1="553.50" x2="193.50" y2="556.40" stroke="#000" stroke-width="0.85" stroke-linecap="butt"/>
<line x1="185.45" y1="525.00" x2="185.45" y2="527.70" stroke="#2e2e2e" stroke-width="0.85" stroke-linecap="butt"/>
<line x1="182.95" y1="525.00" x2="187.95" y2="525.00" stroke="#2e2e2e" stroke-width="0.85" stroke-linecap="butt"/>
<rect x="180.40" y="527.50" width="10.10" height="25.75" fill="#2b4a80"/>
<line x1="185.40" y1="523.50" x2="201.70" y2="523.50" stroke="#3c3c3c" stroke-width="1.2" stroke-linecap="butt"/>
<circle cx="190.25" cy="520.60" r="0.9" fill="#2a2a2a"/>
<circle cx="192.45" cy="520.60" r="0.9" fill="#2a2a2a"/>
<circle cx="194.65" cy="520.60" r="0.9" fill="#2a2a2a"/>
<circle cx="196.85" cy="520.60" r="0.9" fill="#2a2a2a"/>
<text  x="193.40" y="564.71" font-size="6.3" text-anchor="middle" fill="#111" textLength="16.50" lengthAdjust="spacingAndGlyphs">KG1a</text>
<line x1="47.50" y1="577.50" x2="47.50" y2="615.00" stroke="#000" stroke-width="1.0" stroke-linecap="butt"/>
<line x1="44.00" y1="580.50" x2="47.50" y2="580.50" stroke="#000" stroke-width="0.85" stroke-linecap="butt"/>
<text  x="41.40" y="582.16" font-size="7.0" text-anchor="end" fill="#111" textLength="6.85" lengthAdjust="spacingAndGlyphs">30</text>
<line x1="44.00" y1="591.50" x2="47.50" y2="591.50" stroke="#000" stroke-width="0.85" stroke-linecap="butt"/>
<text  x="41.40" y="593.66" font-size="7.0" text-anchor="end" fill="#111" textLength="6.85" lengthAdjust="spacingAndGlyphs">20</text>
<line x1="44.00" y1="603.50" x2="47.50" y2="603.50" stroke="#000" stroke-width="0.85" stroke-linecap="butt"/>
<text  x="41.40" y="605.16" font-size="7.0" text-anchor="end" fill="#111" textLength="6.85" lengthAdjust="spacingAndGlyphs">10</text>
<line x1="44.00" y1="614.50" x2="47.50" y2="614.50" stroke="#000" stroke-width="0.85" stroke-linecap="butt"/>
<text  x="41.40" y="616.66" font-size="7.0" text-anchor="end" fill="#111" textLength="3.43" lengthAdjust="spacingAndGlyphs">0</text>
<line x1="47.00" y1="614.50" x2="85.00" y2="614.50" stroke="#000" stroke-width="1.0" stroke-linecap="butt"/>
<line x1="65.50" y1="614.50" x2="65.50" y2="617.40" stroke="#000" stroke-width="0.85" stroke-linecap="butt"/>
<line x1="57.45" y1="582.50" x2="57.45" y2="585.70" stroke="#2e2e2e" stroke-width="0.85" stroke-linecap="butt"/>
<line x1="54.95" y1="582.50" x2="59.95" y2="582.50" stroke="#2e2e2e" stroke-width="0.85" stroke-linecap="butt"/>
<rect x="52.40" y="585.50" width="10.10" height="29.00" fill="#2b4a80"/>
<line x1="73.65" y1="596.80" x2="73.65" y2="602.70" stroke="#2e2e2e" stroke-width="0.85" stroke-linecap="butt"/>
<line x1="71.15" y1="596.80" x2="76.15" y2="596.80" stroke="#2e2e2e" stroke-width="0.85" stroke-linecap="butt"/>
<rect x="68.60" y="602.50" width="10.10" height="12.00" fill="#a30028"/>
<line x1="57.40" y1="580.50" x2="73.70" y2="580.50" stroke="#3c3c3c" stroke-width="1.2" stroke-linecap="butt"/>
<circle cx="64.45" cy="577.30" r="0.9" fill="#2a2a2a"/>
<circle cx="66.65" cy="577.30" r="0.9" fill="#2a2a2a"/>
<text  x="65.40" y="625.96" font-size="6.3" text-anchor="middle" fill="#111" textLength="21.60" lengthAdjust="spacingAndGlyphs">140372</text>
<line x1="111.50" y1="577.50" x2="111.50" y2="615.00" stroke="#000" stroke-width="1.0" stroke-linecap="butt"/>
<line x1="108.00" y1="580.50" x2="111.50" y2="580.50" stroke="#000" stroke-width="0.85" stroke-linecap="butt"/>
<text  x="106.15" y="582.16" font-size="7.0" text-anchor="end" fill="#111" textLength="10.28" lengthAdjust="spacingAndGlyphs">100</text>
<line x1="108.00" y1="586.50" x2="111.50" y2="586.50" stroke="#000" stroke-width="0.85" stroke-linecap="butt"/>
<text  x="106.15" y="589.06" font-size="7.0" text-anchor="end" fill="#111" textLength="6.85" lengthAdjust="spacingAndGlyphs">80</text>
<line x1="108.00" y1="593.50" x2="111.50" y2="593.50" stroke="#000" stroke-width="0.85" stroke-linecap="butt"/>
<text  x="106.15" y="595.96" font-size="7.0" text-anchor="end" fill="#111" textLength="6.85" lengthAdjust="spacingAndGlyphs">60</text>
<line x1="108.00" y1="600.50" x2="111.50" y2="600.50" stroke="#000" stroke-width="0.85" stroke-linecap="butt"/>
<text  x="106.15" y="602.86" font-size="7.0" text-anchor="end" fill="#111" textLength="6.85" lengthAdjust="spacingAndGlyphs">40</text>
<line x1="108.00" y1="607.50" x2="111.50" y2="607.50" stroke="#000" stroke-width="0.85" stroke-linecap="butt"/>
<text  x="106.15" y="609.76" font-size="7.0" text-anchor="end" fill="#111" textLength="6.85" lengthAdjust="spacingAndGlyphs">20</text>
<line x1="108.00" y1="614.50" x2="111.50" y2="614.50" stroke="#000" stroke-width="0.85" stroke-linecap="butt"/>
<text  x="106.15" y="616.66" font-size="7.0" text-anchor="end" fill="#111" textLength="3.43" lengthAdjust="spacingAndGlyphs">0</text>
<line x1="111.00" y1="614.50" x2="149.75" y2="614.50" stroke="#000" stroke-width="1.0" stroke-linecap="butt"/>
<line x1="130.50" y1="614.50" x2="130.50" y2="617.40" stroke="#000" stroke-width="0.85" stroke-linecap="butt"/>
<line x1="122.20" y1="583.30" x2="122.20" y2="592.20" stroke="#2e2e2e" stroke-width="0.85" stroke-linecap="butt"/>
<line x1="119.70" y1="583.30" x2="124.70" y2="583.30" stroke="#2e2e2e" stroke-width="0.85" stroke-linecap="butt"/>
<rect x="117.15" y="592.00" width="10.10" height="22.50" fill="#2b4a80"/>
<line x1="138.40" y1="595.50" x2="138.40" y2="602.20" stroke="#2e2e2e" stroke-width="0.85" stroke-linecap="butt"/>
<line x1="135.90" y1="595.50" x2="140.90" y2="595.50" stroke="#2e2e2e" stroke-width="0.85" stroke-linecap="butt"/>
<rect x="133.35" y="602.00" width="10.10" height="12.50" fill="#a30028"/>
<line x1="122.15" y1="580.50" x2="138.45" y2="580.50" stroke="#3c3c3c" stroke-width="1.2" stroke-linecap="butt"/>
<text  x="130.30" y="578.90" font-size="5.3" text-anchor="middle" fill="#222" textLength="5.60" lengthAdjust="spacingAndGlyphs">ns</text>
<text  x="130.15" y="625.96" font-size="6.3" text-anchor="middle" fill="#111" textLength="21.60" lengthAdjust="spacingAndGlyphs">290985</text>
<line x1="175.50" y1="577.50" x2="175.50" y2="615.00" stroke="#000" stroke-width="1.0" stroke-linecap="butt"/>
<line x1="172.00" y1="580.50" x2="175.50" y2="580.50" stroke="#000" stroke-width="0.85" stroke-linecap="butt"/>
<text  x="169.40" y="582.16" font-size="7.0" text-anchor="end" fill="#111" textLength="10.28" lengthAdjust="spacingAndGlyphs">150</text>
<line x1="172.00" y1="591.50" x2="175.50" y2="591.50" stroke="#000" stroke-width="0.85" stroke-linecap="butt"/>
<text  x="169.40" y="593.66" font-size="7.0" text-anchor="end" fill="#111" textLength="10.28" lengthAdjust="spacingAndGlyphs">100</text>
<line x1="172.00" y1="603.50" x2="175.50" y2="603.50" stroke="#000" stroke-width="0.85" stroke-linecap="butt"/>
<text  x="169.40" y="605.16" font-size="7.0" text-anchor="end" fill="#111" textLength="6.85" lengthAdjust="spacingAndGlyphs">50</text>
<line x1="172.00" y1="614.50" x2="175.50" y2="614.50" stroke="#000" stroke-width="0.85" stroke-linecap="butt"/>
<text  x="169.40" y="616.66" font-size="7.0" text-anchor="end" fill="#111" textLength="3.43" lengthAdjust="spacingAndGlyphs">0</text>
<line x1="175.00" y1="614.50" x2="213.00" y2="614.50" stroke="#000" stroke-width="1.0" stroke-linecap="butt"/>
<line x1="193.50" y1="614.50" x2="193.50" y2="617.40" stroke="#000" stroke-width="0.85" stroke-linecap="butt"/>
<line x1="185.45" y1="586.30" x2="185.45" y2="591.00" stroke="#2e2e2e" stroke-width="0.85" stroke-linecap="butt"/>
<line x1="182.95" y1="586.30" x2="187.95" y2="586.30" stroke="#2e2e2e" stroke-width="0.85" stroke-linecap="butt"/>
<rect x="180.40" y="590.80" width="10.10" height="23.70" fill="#2b4a80"/>
<line x1="201.65" y1="608.00" x2="201.65" y2="611.00" stroke="#2e2e2e" stroke-width="0.85" stroke-linecap="butt"/>
<line x1="199.15" y1="608.00" x2="204.15" y2="608.00" stroke="#2e2e2e" stroke-width="0.85" stroke-linecap="butt"/>
<rect x="196.60" y="610.80" width="10.10" height="3.70" fill="#a30028"/>
<line x1="185.40" y1="582.50" x2="201.70" y2="582.50" stroke="#3c3c3c" stroke-width="1.2" stroke-linecap="butt"/>
<circle cx="192.45" cy="579.80" r="0.9" fill="#2a2a2a"/>
<circle cx="194.65" cy="579.80" r="0.9" fill="#2a2a2a"/>
<text  x="193.40" y="625.96" font-size="6.3" text-anchor="middle" fill="#111" textLength="21.60" lengthAdjust="spacingAndGlyphs">100753</text>
<rect x="222.00" y="529.30" width="6.00" height="2.50" fill="#2b4a80"/>
<text  x="231.20" y="532.57" font-size="5.5" text-anchor="start" stroke="#111" stroke-width="0.1" fill="#111" textLength="39.00" lengthAdjust="spacingAndGlyphs">-STING inhibitor</text>
<rect x="222.00" y="537.30" width="6.00" height="2.50" fill="#a30028"/>
<text  x="231.20" y="540.57" font-size="5.5" text-anchor="start" stroke="#111" stroke-width="0.1" fill="#111" textLength="41.00" lengthAdjust="spacingAndGlyphs">+STING inhibitor</text>
</g>
</svg>
<div id="frame"></div>
</body></html>
